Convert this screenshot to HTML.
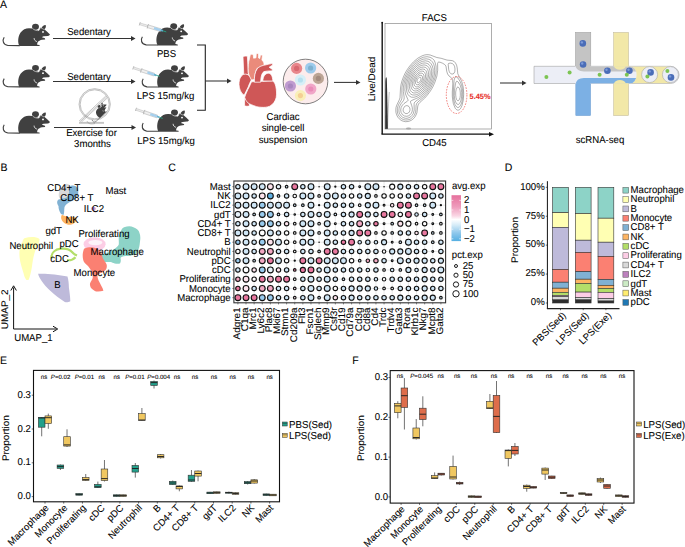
<!DOCTYPE html>
<html><head><meta charset="utf-8"><style>
html,body{margin:0;padding:0;background:#fff;width:685px;height:547px;overflow:hidden}
svg{display:block}
text{font-family:"Liberation Sans", sans-serif;stroke-width:0.08px;stroke-linejoin:round;text-rendering:geometricPrecision}
</style></head><body>
<svg width="685" height="547" viewBox="0 0 685 547" font-family='"Liberation Sans", sans-serif'>
<rect width="685" height="547" fill="#fff"/>
<text x="0" y="0" font-size="10.5" text-anchor="start" fill="#000" stroke="#000" transform="translate(0.00,7.60) scale(1,1.035)" >A</text><defs><g id="mouse">
<path d="M4.2,37.3 C2.4,40 2.6,44.6 8,45.5 L19.8,45.6" fill="none" stroke="#404040" stroke-width="1.15"/>
<ellipse cx="35.5" cy="26.8" rx="3.45" ry="3.0" fill="#404040"/>
<path d="M41.4,28.7 C41.6,26.6 43.3,25 45.7,24.9 C46.3,26.8 45.5,28.6 43.8,29.4 Z" fill="#404040"/>
<path d="M19.6,46.1 C17.6,43.5 17.6,36.5 20.6,32.4 C22.8,29.6 25.5,28.3 29,28.2 L32.6,28.5 L38.9,30.6 L40.4,27.6 L44.6,29.6 C46.5,31.2 48.5,33 50,34.6 C49.5,35.5 48.8,35.8 48,35.9 L43.5,36.2 C42.6,36.4 42.1,36.8 41.9,37.3 C42.8,37.6 44,37.8 44.9,38.2 L45.2,39.4 L42,39.8 C40.2,40.2 38.6,41 37.8,42 C37.2,43 37,44 37.2,44.7 L39.5,45.1 L39.7,46.1 Z" fill="#404040"/>
<path d="M32.7,28.6 C34,30.1 37,30.9 39,30.5 L40.5,27.7" fill="none" stroke="#fff" stroke-width="0.55"/>
<path d="M40.3,27.5 L43.9,29.4" fill="none" stroke="#fff" stroke-width="0.5"/>
<ellipse cx="43" cy="31.9" rx="0.95" ry="0.85" fill="#fff"/>
<path d="M34.1,38.1 C34.1,39.8 35.1,41 36.9,41.6" fill="none" stroke="#fff" stroke-width="0.8"/>
</g><g id="syr">
<line x1="0.4" y1="-1.7" x2="0.4" y2="1.7" stroke="#aaa" stroke-width="0.7"/>
<rect x="0.6" y="-0.9" width="8" height="1.8" fill="#ececec" stroke="#b0b0b0" stroke-width="0.4"/>
<line x1="8.8" y1="-2.3" x2="8.8" y2="2.3" stroke="#aaa" stroke-width="0.7"/>
<rect x="8.8" y="-1.4" width="13.4" height="2.8" fill="#efefef" stroke="#a8a8a8" stroke-width="0.45"/>
<rect x="15.2" y="-1.15" width="6.9" height="2.3" fill="#a6d0ee"/>
<rect x="22.2" y="-0.9" width="2.3" height="1.8" fill="#5fb0d0"/>
<line x1="24.5" y1="0" x2="28" y2="0" stroke="#26a386" stroke-width="0.8"/>
</g></defs><use href="#mouse" transform="translate(0,0)"/><use href="#mouse" transform="translate(0,41.3)"/><use href="#mouse" transform="translate(0,87.5)"/><use href="#mouse" transform="translate(138.2,-0.6)"/><use href="#mouse" transform="translate(139,41.4)"/><use href="#mouse" transform="translate(139,85.7)"/><use href="#syr" transform="translate(139.40,23.70) rotate(16.95) scale(1.004,1)"/><use href="#syr" transform="translate(132.90,67.70) rotate(18.05) scale(1.003,1)"/><use href="#syr" transform="translate(135.60,109.20) rotate(18.75) scale(1.022,1)"/><line x1="53.00" y1="38.50" x2="131.50" y2="38.50" stroke="#333" stroke-width="1.05" /><path d="M135.50,38.50 L131.00,36.10 L131.00,40.90 Z" fill="#333"/><line x1="53.00" y1="81.50" x2="131.50" y2="81.50" stroke="#333" stroke-width="1.05" /><path d="M135.50,81.50 L131.00,79.10 L131.00,83.90 Z" fill="#333"/><line x1="54.00" y1="127.50" x2="132.00" y2="127.50" stroke="#333" stroke-width="1.05" /><path d="M136.00,127.50 L131.50,125.10 L131.50,129.90 Z" fill="#333"/><text x="0" y="0" font-size="9.6" text-anchor="middle" fill="#000" stroke="#000" transform="translate(89.00,34.80) scale(1,1.035)" >Sedentary</text><text x="0" y="0" font-size="9.6" text-anchor="middle" fill="#000" stroke="#000" transform="translate(89.00,79.50) scale(1,1.035)" >Sedentary</text><text x="0" y="0" font-size="9.6" text-anchor="middle" fill="#000" stroke="#000" transform="translate(91.50,136.40) scale(1,1.035)" >Exercise for</text><text x="0" y="0" font-size="9.6" text-anchor="middle" fill="#000" stroke="#000" transform="translate(92.50,146.60) scale(1,1.035)" >3months</text><text x="0" y="0" font-size="9.6" text-anchor="middle" fill="#000" stroke="#000" transform="translate(166.50,57.00) scale(1,1.035)" >PBS</text><text x="0" y="0" font-size="9.6" text-anchor="middle" fill="#000" stroke="#000" transform="translate(165.50,99.40) scale(1,1.035)" >LPS 15mg/kg</text><text x="0" y="0" font-size="9.6" text-anchor="middle" fill="#000" stroke="#000" transform="translate(166.00,143.60) scale(1,1.035)" >LPS 15mg/kg</text><circle cx="94.7" cy="104.3" r="15.1" fill="none" stroke="#f0f0f0" stroke-width="1"/><g fill="none" stroke="#8a8a8a" stroke-width="0.5"><circle cx="94.7" cy="104.3" r="15.7"/><circle cx="94.7" cy="104.3" r="14.5"/><line x1="79" y1="121.2" x2="105.8" y2="96"/><line x1="80.2" y1="121.6" x2="106.6" y2="97"/><line x1="81.4" y1="122" x2="107.3" y2="98"/><line x1="79" y1="123.3" x2="104" y2="123.3"/><line x1="79" y1="122.4" x2="104" y2="122.4"/></g><g transform="translate(100.6,111.6) rotate(-44) scale(0.46) translate(-30,-37)"><use href="#mouse"/></g><path d="M87,121 C88,124 91,124.5 95,123.5" fill="none" stroke="#8a8a8a" stroke-width="0.5"/><path d="M197,45 L205.3,45 L205.3,110.3 L197,110.3" fill="none" stroke="#222" stroke-width="1.1"/><line x1="205.30" y1="81.00" x2="227.50" y2="81.00" stroke="#333" stroke-width="1.05" /><path d="M231.50,81.00 L227.00,78.60 L227.00,83.40 Z" fill="#333"/>
<g stroke="#fff" stroke-width="0.75" stroke-linejoin="round">
<path d="M243.0,57.3 C243.5,56 246,55.6 247.4,56.4 L248.4,74.5 L243.8,75 Z" fill="#cf5757"/>
<path d="M243.5,74.5 C246,73.5 248.5,74.5 250,76.5 C251,78 251.5,79 251.3,80 C250,82.5 249,84.5 248.3,86.8 C247,89.5 245.5,92.5 244.2,95.2 C241,93.5 239.2,89 239,84.5 C239,79.5 240.5,75.8 243.5,74.5 Z" fill="#cf5757"/>
<path d="M244.5,97.5 L248.8,101 L249.6,105.8 C248,106.5 245.8,106.4 244.6,105.8 Z" fill="#cf5757"/>
<path d="M251.5,81.8 L272.8,80.8 C274.5,82.5 275.5,84.5 275.8,86.5 C276.6,90 276.8,94 276.2,97.5 C275.5,101 273,104.5 269.8,106.2 C267,107.3 264,107.5 261.6,107.3 C259,107.2 257,106.8 255.4,106.2 C252.5,105.2 250,104.2 248.3,103.2 C246.5,101.5 245.2,99.5 244.7,97.3 C245.2,95.5 245.8,94 246.4,92.8 C247.3,90.5 248.3,88.5 249.3,86.8 C250,85 250.8,83.3 251.5,81.8 Z" fill="#cf5757"/>
<path d="M262.8,81 C263,76 265.5,73.2 268.5,73.2 C271,73.3 272.5,76 272.9,81 Z" fill="#cf5757"/>
<path d="M248.3,72.5 C248,67 248.3,62 249.5,58.5 L250.2,55 C250.8,54 252.6,54 253.3,55 L253.6,58.2 L256,57.8 L256.2,54 C256.7,53.3 258.2,53.3 258.6,54 L258.6,58 L259.7,58.6 L260.4,55.5 C261,54.8 262.4,55 262.5,55.8 L261.9,60 C263.5,61.5 264.3,63.3 264,65.3 L257,68.4 C255.5,71 254.8,75 254.4,79.5 L251.5,80 C250,77.5 248.8,75 248.3,72.5 Z" fill="#ea8b7b"/>
<path d="M254.4,82.2 C254.2,77 254.8,72 257.2,68.8 C259,66.5 262,65.5 266,64.8 C268,64.3 270,63.8 271.8,63.6 C272.6,63.8 272.8,64.6 272.3,65.3 L269.2,67.2 L272.1,69.2 C272.8,69.8 272.4,70.9 271.3,70.9 C268.5,70.9 266,71 264,71.6 C262.2,72.8 261.5,75 261,78 L260.6,82.2 Z" fill="#cf5757"/>
</g>
<circle cx="305.5" cy="81.5" r="22.3" fill="#fcecec" stroke="#555" stroke-width="0.75"/><circle cx="296.6" cy="68.4" r="5.6" fill="#e8868b"/><circle cx="296.6" cy="68.4" r="2.6" fill="#d86870"/><circle cx="310.6" cy="68.0" r="5.6" fill="#9dcbec"/><circle cx="310.6" cy="68.0" r="2.6" fill="#7eb0cf"/><circle cx="300.4" cy="80.0" r="5.6" fill="#d6eff7"/><circle cx="300.4" cy="80.0" r="2.6" fill="#b6e0ee"/><circle cx="318.4" cy="78.4" r="5.6" fill="#bca595"/><circle cx="318.4" cy="78.4" r="2.6" fill="#a48b7e"/><circle cx="290.4" cy="86.0" r="5.6" fill="#bf9bd0"/><circle cx="290.4" cy="86.0" r="2.6" fill="#a987bf"/><circle cx="310.8" cy="89.0" r="5.6" fill="#f1a6c8"/><circle cx="310.8" cy="89.0" r="2.6" fill="#e98bb7"/><circle cx="300.4" cy="95.6" r="5.6" fill="#f9efb8"/><circle cx="300.4" cy="95.6" r="2.6" fill="#f4cf93"/><line x1="334.00" y1="82.40" x2="356.50" y2="82.40" stroke="#333" stroke-width="1.05" /><path d="M360.50,82.40 L356.00,80.00 L356.00,84.80 Z" fill="#333"/><text x="0" y="0" font-size="9.6" text-anchor="middle" fill="#000" stroke="#000" transform="translate(283.00,120.20) scale(1,1.035)" >Cardiac</text><text x="0" y="0" font-size="9.6" text-anchor="middle" fill="#000" stroke="#000" transform="translate(283.00,131.20) scale(1,1.035)" >single-cell</text><text x="0" y="0" font-size="9.6" text-anchor="middle" fill="#000" stroke="#000" transform="translate(283.00,142.60) scale(1,1.035)" >suspension</text><text x="0" y="0" font-size="9.6" text-anchor="middle" fill="#000" stroke="#000" transform="translate(434.40,20.80) scale(1,1.035)" >FACS</text><rect x="385" y="23.6" width="106.4" height="105.4" fill="none" stroke="#777" stroke-width="0.6"/><line x1="382.2" y1="22.5" x2="382.2" y2="134.2" stroke="#111" stroke-width="1.4"/><circle cx="382.2" cy="22.6" r="0.9" fill="#111"/><line x1="381.5" y1="134.2" x2="490" y2="134.2" stroke="#111" stroke-width="1.2"/><path d="M494,134.2 L489,132 L489,136.4 Z" fill="#111"/><text x="0" y="0" font-size="9.6" text-anchor="middle" fill="#000" stroke="#000" transform="translate(374.60,79.00) rotate(-90) scale(1.035,1)" >Live/Dead</text><text x="0" y="0" font-size="9.6" text-anchor="middle" fill="#000" stroke="#000" transform="translate(434.40,145.60) scale(1,1.035)" >CD45</text><g fill="none" stroke="#444" stroke-width="0.42" stroke-linejoin="round"><path d="M418.2,82.8 L417.5,82.6 L417.1,82.0 L417.0,81.0 L417.2,79.8 L417.8,78.8 L418.7,77.8 L419.5,77.3 L420.2,77.3 L420.8,77.7 L421.0,78.2 L420.8,80.2 L419.8,81.8 L418.2,82.8Z"/><path d="M417.8,84.8 L416.5,84.6 L415.6,83.5 L415.5,81.8 L415.9,79.8 L416.9,77.8 L418.3,76.2 L419.8,75.3 L421.2,75.3 L422.0,75.8 L422.5,77.0 L422.5,78.5 L422.1,80.2 L421.2,82.0 L420.2,83.3 L419.0,84.3 L417.8,84.8Z"/><path d="M417.5,86.8 L416.5,86.9 L415.5,86.6 L414.8,86.0 L414.2,85.1 L413.9,82.8 L414.6,79.8 L416.0,76.9 L418.0,74.6 L420.2,73.3 L421.2,73.1 L422.2,73.3 L423.4,74.2 L424.0,75.8 L424.0,78.0 L423.4,80.2 L422.4,82.5 L420.9,84.5 L419.2,86.0 L417.5,86.8Z"/><path d="M417.0,88.8 L415.8,88.9 L414.5,88.6 L413.5,87.8 L412.9,86.8 L412.5,85.2 L412.4,83.5 L413.2,79.8 L415.1,76.0 L417.8,73.0 L420.5,71.3 L421.8,71.1 L423.1,71.2 L424.0,71.7 L424.7,72.5 L425.5,74.5 L425.5,77.2 L424.8,80.2 L423.4,83.2 L421.5,85.8 L419.2,87.8 L417.0,88.8Z"/><path d="M416.8,90.8 L415.2,91.0 L413.8,90.7 L412.5,89.8 L411.6,88.5 L411.0,86.8 L410.9,84.8 L411.1,82.5 L411.8,80.0 L412.8,77.5 L414.1,75.2 L415.6,73.2 L417.2,71.5 L419.0,70.2 L420.8,69.4 L422.5,69.0 L424.0,69.2 L425.0,69.7 L425.8,70.5 L426.5,71.7 L426.9,73.0 L427.1,76.2 L426.2,80.0 L424.5,83.8 L422.2,87.0 L419.5,89.5 L416.8,90.8Z"/><path d="M415.0,93.0 L413.2,92.9 L411.8,92.1 L410.5,90.8 L409.8,89.0 L409.4,86.8 L409.5,84.2 L410.0,81.5 L410.9,78.8 L412.2,76.0 L413.7,73.5 L415.5,71.3 L417.5,69.4 L419.5,68.1 L421.5,67.3 L423.5,67.0 L425.2,67.3 L426.5,68.1 L427.5,69.2 L428.1,70.8 L428.5,72.5 L428.6,74.5 L428.4,76.8 L427.1,81.2 L424.8,85.8 L421.8,89.4 L420.0,90.9 L418.2,92.0 L416.5,92.7 L415.0,93.0Z"/><path d="M415.0,95.0 L412.8,95.0 L411.0,94.3 L409.6,93.0 L408.5,91.0 L407.9,88.5 L407.9,85.8 L408.4,82.5 L409.3,79.2 L410.6,76.2 L412.5,73.0 L414.7,70.2 L417.0,68.0 L419.2,66.4 L421.8,65.3 L424.0,64.9 L426.0,65.3 L427.5,66.1 L428.6,67.2 L429.4,68.8 L430.0,70.8 L430.2,73.0 L430.0,75.5 L429.5,78.0 L428.7,80.8 L426.1,86.0 L422.8,90.4 L420.8,92.2 L418.8,93.6 L416.8,94.6 L415.0,95.0Z"/><path d="M413.8,97.3 L411.5,97.2 L409.5,96.2 L408.0,94.5 L406.9,92.0 L406.4,89.0 L406.4,85.8 L407.1,82.0 L408.3,78.2 L410.1,74.5 L412.2,71.2 L414.7,68.2 L417.2,65.9 L420.0,64.2 L422.5,63.2 L425.0,62.9 L427.2,63.4 L429.0,64.5 L430.2,66.0 L431.1,68.0 L431.6,70.2 L431.7,73.0 L431.4,75.8 L430.7,78.8 L429.7,81.8 L428.4,84.5 L426.6,87.5 L424.8,90.0 L422.8,92.3 L420.5,94.2 L418.2,95.7 L416.0,96.7 L413.8,97.3Z"/><path d="M407.2,113.5 L405.8,113.6 L404.5,113.0 L403.5,111.8 L403.1,110.2 L403.3,108.8 L404.0,107.2 L405.2,106.1 L406.8,105.6 L408.0,105.9 L409.0,106.6 L409.7,107.8 L410.0,109.2 L409.8,110.8 L409.3,112.0 L408.3,113.0 L407.2,113.5Z"/><path d="M406.8,116.3 L404.5,116.0 L402.5,114.7 L401.1,112.5 L400.7,110.0 L401.1,107.5 L402.5,105.1 L404.0,103.5 L407.4,101.2 L408.0,100.5 L407.9,99.5 L405.5,94.0 L404.8,89.8 L405.2,84.5 L405.9,81.5 L406.9,78.5 L408.6,74.8 L410.8,71.0 L413.5,67.6 L416.5,64.7 L419.5,62.6 L422.5,61.3 L425.5,60.8 L428.0,61.3 L429.8,62.3 L431.2,63.9 L432.3,66.0 L433.0,68.5 L433.2,71.5 L432.9,74.8 L432.2,78.2 L431.1,81.5 L429.5,85.0 L427.7,88.2 L425.5,91.2 L423.0,94.0 L420.8,95.9 L418.2,97.6 L411.6,100.5 L410.6,101.2 L410.5,102.2 L411.8,105.8 L412.3,107.8 L412.4,109.5 L412.2,111.2 L411.4,113.2 L410.1,114.8 L408.5,115.8 L406.8,116.3Z"/><path d="M458.5,100.6 L458.0,100.7 L457.5,100.6 L456.6,99.5 L456.0,97.6 L455.7,95.0 L455.7,92.0 L456.2,89.5 L457.0,87.5 L457.8,87.0 L458.8,87.5 L459.5,88.7 L460.1,90.8 L460.3,93.0 L460.3,95.5 L460.0,97.8 L459.2,99.7 L458.5,100.6Z"/><path d="M407.0,118.3 L405.5,118.3 L404.0,117.9 L402.5,117.2 L401.3,116.2 L399.6,113.8 L399.1,112.2 L398.9,110.5 L399.1,108.0 L399.9,105.8 L401.0,103.8 L403.5,100.5 L404.1,99.0 L404.2,97.2 L403.3,91.5 L403.3,88.0 L404.1,83.2 L405.4,78.8 L407.6,74.0 L410.2,69.8 L413.2,66.0 L416.2,63.0 L419.8,60.6 L423.0,59.2 L426.2,58.8 L429.0,59.3 L431.0,60.4 L432.5,62.0 L433.7,64.2 L434.5,67.2 L434.7,70.5 L434.5,74.0 L433.7,77.8 L432.6,81.2 L429.6,87.5 L425.7,93.0 L421.8,97.0 L416.0,101.0 L414.7,102.2 L414.2,103.2 L414.1,104.2 L414.2,110.2 L413.3,113.5 L412.2,115.2 L410.8,116.7 L409.0,117.7 L407.0,118.3Z"/><path d="M458.0,104.5 L456.8,103.9 L455.6,102.0 L454.7,99.0 L454.3,95.5 L454.4,90.8 L455.5,83.7 L456.0,81.9 L456.8,81.2 L457.5,81.5 L458.2,82.1 L460.2,85.2 L461.2,88.5 L461.7,92.5 L461.6,97.0 L460.8,101.0 L459.5,103.6 L458.8,104.3 L458.0,104.5Z"/><path d="M407.0,120.0 L405.2,120.0 L403.5,119.6 L401.8,118.8 L400.4,117.8 L399.1,116.2 L398.2,114.8 L397.6,113.0 L397.3,111.0 L397.4,108.5 L398.0,106.0 L399.0,103.8 L401.3,100.0 L401.9,98.2 L402.0,96.2 L401.8,90.8 L401.9,87.5 L402.7,83.2 L404.1,78.8 L406.3,73.8 L409.1,69.0 L412.3,65.0 L416.0,61.4 L419.8,58.8 L423.5,57.2 L427.0,56.7 L430.2,57.3 L432.5,58.6 L434.1,60.2 L435.1,62.5 L436.0,66.0 L436.2,69.5 L436.0,73.2 L435.2,77.2 L433.9,81.2 L431.2,87.2 L427.4,93.0 L423.8,97.1 L418.1,101.8 L416.8,103.3 L416.1,105.2 L415.9,109.5 L415.6,111.8 L414.9,114.0 L413.9,115.8 L412.5,117.4 L410.8,118.8 L409.0,119.6 L407.0,120.0Z"/><path d="M452.8,74.0 L451.5,73.9 L450.5,73.4 L449.7,72.5 L449.1,71.2 L448.7,69.5 L448.2,64.2 L448.5,63.5 L449.0,63.3 L450.8,63.1 L452.5,63.7 L453.8,64.8 L454.6,66.5 L455.0,69.0 L454.8,71.6 L454.0,73.3 L452.8,74.0Z"/><path d="M458.2,107.5 L457.2,107.4 L456.5,106.8 L455.1,104.8 L454.0,101.2 L453.3,97.0 L453.3,92.0 L454.1,80.2 L454.8,77.8 L455.2,77.1 L455.8,76.9 L456.8,77.1 L458.0,78.1 L460.3,81.8 L461.9,86.0 L462.7,91.0 L462.7,96.8 L461.9,102.0 L461.1,104.2 L460.2,105.9 L459.2,107.1 L458.2,107.5Z"/><path d="M408.0,121.5 L405.5,121.7 L403.2,121.2 L401.2,120.4 L399.2,118.8 L397.7,117.0 L396.6,114.8 L395.9,112.2 L395.8,109.8 L396.0,107.5 L396.6,105.5 L399.3,99.8 L400.0,97.8 L400.5,88.0 L401.1,84.2 L402.1,80.5 L403.4,77.0 L405.1,73.2 L407.1,69.8 L409.6,66.2 L413.5,61.8 L417.8,58.2 L422.0,55.9 L424.2,55.1 L426.2,54.7 L428.2,54.7 L430.2,55.0 L436.8,57.5 L441.2,58.3 L447.0,60.1 L452.2,60.6 L454.2,61.5 L455.5,63.0 L456.6,65.2 L457.2,67.8 L457.8,73.8 L461.6,81.2 L462.6,84.5 L463.4,88.2 L463.7,94.2 L463.3,100.0 L462.1,105.2 L461.3,107.2 L460.4,108.8 L459.5,109.6 L458.5,110.1 L457.5,110.1 L456.5,109.6 L455.5,108.6 L454.8,107.3 L453.4,103.8 L452.7,100.0 L452.3,96.2 L452.3,92.0 L452.8,83.8 L452.6,80.5 L452.1,78.8 L451.5,77.9 L449.0,76.0 L447.6,74.0 L446.7,71.2 L446.1,66.8 L445.4,65.2 L444.2,64.2 L442.5,63.2 L440.0,62.2 L438.5,62.1 L437.9,62.5 L437.6,63.5 L437.7,70.2 L436.9,76.0 L435.2,81.5 L432.9,86.8 L430.4,91.0 L427.4,95.0 L424.8,98.0 L419.8,102.5 L418.5,104.0 L417.8,106.0 L416.9,112.8 L416.0,115.0 L414.9,117.0 L413.5,118.6 L411.8,120.0 L410.0,120.9 L408.0,121.5Z"/></g><ellipse cx="408.5" cy="128.6" rx="2.6" ry="1" fill="#aaa"/><path d="M385.2,129 L385.3,82 C385.5,77 386.4,76 386.8,79 C387.2,92 387.6,110 388,128.8 Z" fill="#333"/><path d="M387.6,128.5 C388,115 388.6,100 389.3,92" fill="none" stroke="#777" stroke-width="0.4"/><ellipse cx="456.6" cy="95" rx="10.3" ry="18.5" fill="none" stroke="#e8302a" stroke-width="0.6" stroke-dasharray="1.6,1.2"/><text x="0" y="0" font-size="7.4" text-anchor="start" fill="#e8302a" stroke="#e8302a" transform="translate(469.60,98.80) scale(1,1.035)" font-weight="bold">5.45%</text><line x1="500.00" y1="83.00" x2="522.50" y2="83.00" stroke="#333" stroke-width="1.05" /><path d="M526.50,83.00 L522.00,80.60 L522.00,85.40 Z" fill="#333"/>
<defs><clipPath id="strm"><path d="M575,66.3 L630,66.3 A6.6,8.6 0 0 1 630,83.5 L575,83.5 Z"/></clipPath></defs>
<path d="M534,66.3 L670.5,66.3 A8.6,8.6 0 0 1 670.5,83.5 L534,83.5 Z" fill="#eceef6" stroke="#9a9a9a" stroke-width="0.55"/>
<rect x="628.6" y="66.6" width="42" height="16.6" fill="#f2e8a8"/>
<rect x="575.5" y="32.4" width="15.3" height="34.2" fill="#c4c4c4" stroke="#9a9a9a" stroke-width="0.5"/>
<rect x="575.8" y="83.2" width="14.8" height="32.4" fill="#7cb0e4" stroke="#6a9cd0" stroke-width="0.5"/>
<rect x="613.6" y="32.4" width="15" height="34.2" fill="#f2e8a8" stroke="#bdb69a" stroke-width="0.5"/>
<rect x="613.6" y="83.2" width="15" height="32.4" fill="#f2e8a8" stroke="#bdb69a" stroke-width="0.5"/>
<g clip-path="url(#strm)">
<rect x="575" y="66" width="70" height="18" fill="#eceef6"/>
<path d="M575.5,66 L645,66 L645,71.4 L584,71.4 C579,71.2 576,69 575.5,66 Z" fill="#c4c4c4"/>
<path d="M575.8,83.8 C576.2,80.2 579,78.2 584,78 L645,78 L645,83.8 Z" fill="#7cb0e4"/>
</g>
<rect x="576" y="64" width="14.5" height="3" fill="#c4c4c4"/>
<rect x="576.3" y="83" width="14" height="2" fill="#7cb0e4"/>
<path d="M614,66.2 C614.5,68.5 617,69.7 619.9,69.7 C622.8,69.7 625.3,68.5 625.8,66.2 Z" fill="#f2e8a8"/>
<path d="M614,83.6 C614.5,81.3 617,80.1 619.9,80.1 C622.8,80.1 625.3,81.3 625.8,83.6 Z" fill="#f2e8a8"/>
<rect x="614" y="64.5" width="14.3" height="2" fill="#f2e8a8"/>
<rect x="614" y="83.3" width="14.3" height="2" fill="#f2e8a8"/>
<circle cx="649.6" cy="74.6" r="8" fill="#eceef6" stroke="#9a9a9a" stroke-width="0.5"/>
<circle cx="670.4" cy="74.6" r="8" fill="#eceef6" stroke="#9a9a9a" stroke-width="0.5"/>
<circle cx="582.8" cy="43.4" r="3.3" fill="#4a6db8"/><circle cx="581.9" cy="42.4" r="1.2" fill="#7d9bd8"/><circle cx="583.1" cy="64.5" r="3.3" fill="#4a6db8"/><circle cx="582.2" cy="63.5" r="1.2" fill="#7d9bd8"/><circle cx="607.4" cy="70.7" r="3.3" fill="#4a6db8"/><circle cx="606.5" cy="69.7" r="1.2" fill="#7d9bd8"/><circle cx="629.4" cy="70.7" r="3.3" fill="#4a6db8"/><circle cx="628.5" cy="69.7" r="1.2" fill="#7d9bd8"/><circle cx="650.6" cy="72.4" r="3.3" fill="#4a6db8"/><circle cx="649.7" cy="71.4" r="1.2" fill="#7d9bd8"/><circle cx="671" cy="77.4" r="3.3" fill="#4a6db8"/><circle cx="670.1" cy="76.4" r="1.2" fill="#7d9bd8"/><circle cx="546.4" cy="77" r="2" fill="#7cc452"/><circle cx="569.6" cy="72.5" r="2" fill="#7cc452"/><circle cx="599.6" cy="74.7" r="2" fill="#7cc452"/><circle cx="626.8" cy="74.7" r="2" fill="#7cc452"/><circle cx="647.4" cy="76.6" r="2" fill="#7cc452"/><circle cx="667.4" cy="71" r="2" fill="#7cc452"/><text x="0" y="0" font-size="9.6" text-anchor="middle" fill="#000" stroke="#000" transform="translate(600.00,143.00) scale(1,1.035)" >scRNA-seq</text><text x="0" y="0" font-size="10.5" text-anchor="start" fill="#000" stroke="#000" transform="translate(0.50,170.60) scale(1,1.035)" >B</text>
<path d="M66.5,183.8 C70,184 72,187 71.5,191 C71,195 68,199 64,200.2 C61,200 58.5,198 58.7,195 C59,190 62,184.5 66.5,183.8 Z" fill="#d9d9d9"/>
<path d="M72,185.6 C76,185 78.8,188 78.3,193 C78,197 75,200 71,201.5 C68,203 66,204 64.5,207 C64,210 64.5,213 63.5,215 L61,214 C59,211 58.5,208.5 58.5,206 C57,204 56.5,201 58.5,199.5 C61,198.5 65,198.5 67,197 C69.5,195 69,191 69.2,188 C69.5,186.5 70.5,185.8 72,185.6 Z" fill="#80b1d3"/>
<path d="M62,214.8 C64,215.5 66,217 68,217 C71,217 74,216.5 76.5,218 C77,221 74.5,224.5 70,224.8 C66,225 62,222 61.2,218.5 C61,217 61.3,215.5 62,214.8 Z" fill="#fdb462"/>
<ellipse cx="93.4" cy="208.8" rx="2.4" ry="2" fill="#c99ccf"/>
<circle cx="93.2" cy="208.6" r="1.1" fill="#bc80bd"/>
<circle cx="110.8" cy="196.5" r="0.8" fill="#ffed6f"/>
<circle cx="53" cy="234.5" r="1" fill="#ccebc5"/>
<path d="M24.4,238.2 C30,236.5 36,236.5 39.5,238.9 C40,242 37,246 35.3,250.5 C33.5,256 32.5,262 31.9,267 C31,272 30,277 28.5,280 L26.4,280 C25,278 24,276 23.7,273.8 C22,268 20,262 19.6,257.4 C19.3,254 19.3,252 19.6,250.5 C20,246 21,243.5 22.3,242.3 C22.8,240 23.5,238.8 24.4,238.2 Z" fill="#ffffb3"/>
<path d="M38.1,273.8 C45,273.2 58,274.5 67.5,276.6 C68.5,280 68.9,284 68.9,287.5 C69.5,292 70.3,297 70.3,301.2 C68,302.5 66,302.3 64.8,301.9 C60,299 55,295.5 51.1,291.6 C47,287.5 43.5,284 41.5,280.7 C40,278.5 38.5,276 38.1,273.8 Z" fill="#bebada"/>
<path d="M51.5,258.5 C51,253 55,249.3 61,248.7 C66,248.2 70,249.5 72,252 C73.5,253.8 75.5,255 77,255.6 M67,260.2 C70.5,260.5 73.5,259.5 75.5,257.2" fill="none" stroke="#b3de69" stroke-width="2.2"/>
<circle cx="69.6" cy="246.4" r="0.9" fill="#1f78b4"/>
<path d="M124,227.3 C128,226 131,226 133.4,227.3 C136.5,228.5 139,230.5 139.4,232.7 C140.5,235.5 140.5,238 140.1,240.7 C139.8,243.5 139.5,246.5 138.7,248.7 C138,251 137.3,252.8 136.1,254 C133,255.5 129,256 125.4,256 C123,256.3 121,257 120.5,258 C121,260 121,262 120,263.4 C118,264 116.5,263.8 114.7,263.4 C113,263 112,262.5 110.7,262 C108.5,262 107,262.2 105.4,262 C103.5,261 102,260.5 101.4,259.4 C100.8,258 101,256.5 101.4,255.4 C103,254 105,253.5 106.7,252.7 C109.5,251.5 112,250.5 114.7,248.7 C116.5,247.5 118,246 118.7,244.7 C119,242.5 118.7,240 118.7,238 C119,235 120,232 121.4,230 C122,228.5 123,227.8 124,227.3 Z" fill="#8dd3c7"/>
<ellipse cx="94.6" cy="244.2" rx="11" ry="7" fill="#fccde5"/>
<ellipse cx="95.4" cy="242.6" rx="7" ry="2.6" fill="#fdf3f8"/>
<path d="M84,248.7 C87,247.5 90,247 93.4,247.4 C96,248 98.5,249 100,250.7 C101.5,253 102,255.5 102.7,258 C104,260.5 106,262.5 106.7,264.7 C107,266.5 106.8,268 106,269.4 C105,271 103,272 101.4,272.7 C99.5,273.5 97.8,274.2 97.4,275.4 C97.5,277.5 98,279 98.7,280.7 C99.5,282.5 100.5,284 101.4,286 C102.3,287.5 103,289 103.4,290.8 C101,291.5 98.5,291.6 96,291.4 C94,290.5 92,289 90.7,287.4 C90,286 89.8,284.5 90,283.4 C90.8,281.5 92,280 92.7,278 C92.8,276 92.6,274.3 92,272.7 C91,270 89.5,268 88,266 C86.5,264.5 85,263.5 84,262 C83,260 82.7,257.5 82.7,255.4 C82.7,253.5 83,251.5 84,248.7 Z" fill="#fb8072"/>
<text x="0" y="0" font-size="9.6" text-anchor="start" fill="#000" stroke="#000" transform="translate(47.20,191.25) scale(1,1.035)" >CD4+ T</text><text x="0" y="0" font-size="9.6" text-anchor="start" fill="#000" stroke="#000" transform="translate(60.20,201.45) scale(1,1.035)" >CD8+ T</text><text x="0" y="0" font-size="9.6" text-anchor="start" fill="#000" stroke="#000" transform="translate(105.40,193.85) scale(1,1.035)" >Mast</text><text x="0" y="0" font-size="9.6" text-anchor="start" fill="#000" stroke="#000" transform="translate(83.80,212.25) scale(1,1.035)" >ILC2</text><text x="0" y="0" font-size="9.6" text-anchor="start" fill="#000" stroke="#000" transform="translate(65.40,223.45) scale(1,1.035)" >NK</text><text x="0" y="0" font-size="9.6" text-anchor="start" fill="#000" stroke="#000" transform="translate(45.40,234.25) scale(1,1.035)" >gdT</text><text x="0" y="0" font-size="9.6" text-anchor="start" fill="#000" stroke="#000" transform="translate(78.40,236.65) scale(1,1.035)" >Proliferating</text><text x="0" y="0" font-size="9.6" text-anchor="start" fill="#000" stroke="#000" transform="translate(9.40,248.85) scale(1,1.035)" >Neutrophil</text><text x="0" y="0" font-size="9.6" text-anchor="start" fill="#000" stroke="#000" transform="translate(59.40,246.85) scale(1,1.035)" >pDC</text><text x="0" y="0" font-size="9.6" text-anchor="start" fill="#000" stroke="#000" transform="translate(90.60,254.65) scale(1,1.035)" >Macrophage</text><text x="0" y="0" font-size="9.6" text-anchor="start" fill="#000" stroke="#000" transform="translate(50.20,261.85) scale(1,1.035)" >cDC</text><text x="0" y="0" font-size="9.6" text-anchor="start" fill="#000" stroke="#000" transform="translate(73.60,276.45) scale(1,1.035)" >Monocyte</text><text x="0" y="0" font-size="9.6" text-anchor="start" fill="#000" stroke="#000" transform="translate(54.20,287.85) scale(1,1.035)" >B</text><path d="M13.6,329 L13.6,287.5 M13.6,329 L56,329" fill="none" stroke="#111" stroke-width="1"/><path d="M10.8,290.5 L13.6,285.8 L16.4,290.5" fill="none" stroke="#111" stroke-width="1"/><path d="M53,326.2 L57.7,329 L53,331.8" fill="none" stroke="#111" stroke-width="1"/><text x="0" y="0" font-size="9.6" text-anchor="middle" fill="#000" stroke="#000" transform="translate(8.10,309.30) rotate(-90) scale(1.035,1)" >UMAP_2</text><text x="0" y="0" font-size="9.6" text-anchor="start" fill="#000" stroke="#000" transform="translate(14.20,341.40) scale(1,1.035)" >UMAP_1</text><text x="0" y="0" font-size="10.5" text-anchor="start" fill="#000" stroke="#000" transform="translate(168.20,171.00) scale(1,1.035)" >C</text><g stroke="#dadada" stroke-width="0.6"><line x1="237.90" y1="181" x2="237.90" y2="302.8"/><line x1="246.02" y1="181" x2="246.02" y2="302.8"/><line x1="254.14" y1="181" x2="254.14" y2="302.8"/><line x1="262.26" y1="181" x2="262.26" y2="302.8"/><line x1="270.38" y1="181" x2="270.38" y2="302.8"/><line x1="278.50" y1="181" x2="278.50" y2="302.8"/><line x1="286.62" y1="181" x2="286.62" y2="302.8"/><line x1="294.74" y1="181" x2="294.74" y2="302.8"/><line x1="302.86" y1="181" x2="302.86" y2="302.8"/><line x1="310.98" y1="181" x2="310.98" y2="302.8"/><line x1="319.10" y1="181" x2="319.10" y2="302.8"/><line x1="327.22" y1="181" x2="327.22" y2="302.8"/><line x1="335.34" y1="181" x2="335.34" y2="302.8"/><line x1="343.46" y1="181" x2="343.46" y2="302.8"/><line x1="351.58" y1="181" x2="351.58" y2="302.8"/><line x1="359.70" y1="181" x2="359.70" y2="302.8"/><line x1="367.82" y1="181" x2="367.82" y2="302.8"/><line x1="375.94" y1="181" x2="375.94" y2="302.8"/><line x1="384.06" y1="181" x2="384.06" y2="302.8"/><line x1="392.18" y1="181" x2="392.18" y2="302.8"/><line x1="400.30" y1="181" x2="400.30" y2="302.8"/><line x1="408.42" y1="181" x2="408.42" y2="302.8"/><line x1="416.54" y1="181" x2="416.54" y2="302.8"/><line x1="424.66" y1="181" x2="424.66" y2="302.8"/><line x1="432.78" y1="181" x2="432.78" y2="302.8"/><line x1="440.90" y1="181" x2="440.90" y2="302.8"/><line x1="233.9" y1="186.70" x2="445.6" y2="186.70"/><line x1="233.9" y1="195.95" x2="445.6" y2="195.95"/><line x1="233.9" y1="205.20" x2="445.6" y2="205.20"/><line x1="233.9" y1="214.45" x2="445.6" y2="214.45"/><line x1="233.9" y1="223.70" x2="445.6" y2="223.70"/><line x1="233.9" y1="232.95" x2="445.6" y2="232.95"/><line x1="233.9" y1="242.20" x2="445.6" y2="242.20"/><line x1="233.9" y1="251.45" x2="445.6" y2="251.45"/><line x1="233.9" y1="260.70" x2="445.6" y2="260.70"/><line x1="233.9" y1="269.95" x2="445.6" y2="269.95"/><line x1="233.9" y1="279.20" x2="445.6" y2="279.20"/><line x1="233.9" y1="288.45" x2="445.6" y2="288.45"/><line x1="233.9" y1="297.70" x2="445.6" y2="297.70"/></g><g stroke="#111" stroke-width="1.12"><circle cx="237.90" cy="186.70" r="2.2" fill="#cfe6f6"/><circle cx="246.02" cy="186.70" r="2.9" fill="#cfe6f6"/><circle cx="254.14" cy="186.70" r="2.9" fill="#cfe6f6"/><circle cx="262.26" cy="186.70" r="2.9" fill="#cfe6f6"/><circle cx="270.38" cy="186.70" r="2.9" fill="#fce3ec"/><circle cx="278.50" cy="186.70" r="2.2" fill="#e8f3fb"/><circle cx="286.62" cy="186.70" r="1.3" fill="#cfe6f6"/><circle cx="294.74" cy="186.70" r="2.9" fill="#e9779f"/><circle cx="302.86" cy="186.70" r="2.2" fill="#cfe6f6"/><circle cx="310.98" cy="186.70" r="2.9" fill="#cfe6f6"/><circle cx="319.10" cy="186.70" r="0.8" fill="#111" stroke="none"/><circle cx="327.22" cy="186.70" r="2.9" fill="#cfe6f6"/><circle cx="335.34" cy="186.70" r="0.6" fill="#cfe6f6"/><circle cx="343.46" cy="186.70" r="2.2" fill="#cfe6f6"/><circle cx="351.58" cy="186.70" r="2.2" fill="#cfe6f6"/><circle cx="359.70" cy="186.70" r="0.9" fill="#cfe6f6"/><circle cx="367.82" cy="186.70" r="2.9" fill="#cfe6f6"/><circle cx="375.94" cy="186.70" r="2.9" fill="#cfe6f6"/><circle cx="384.06" cy="186.70" r="0.8" fill="#111" stroke="none"/><circle cx="392.18" cy="186.70" r="2.55" fill="#ffffff"/><circle cx="400.30" cy="186.70" r="2.55" fill="#cfe6f6"/><circle cx="408.42" cy="186.70" r="2.2" fill="#cfe6f6"/><circle cx="416.54" cy="186.70" r="2.2" fill="#cfe6f6"/><circle cx="424.66" cy="186.70" r="2.2" fill="#ffffff"/><circle cx="432.78" cy="186.70" r="2.9" fill="#e9779f"/><circle cx="440.90" cy="186.70" r="2.9" fill="#e9779f"/><circle cx="237.90" cy="195.95" r="2.9" fill="#cfe6f6"/><circle cx="246.02" cy="195.95" r="2.9" fill="#cfe6f6"/><circle cx="254.14" cy="195.95" r="2.2" fill="#cfe6f6"/><circle cx="262.26" cy="195.95" r="2.9" fill="#fce3ec"/><circle cx="270.38" cy="195.95" r="2.9" fill="#5fb0e2"/><circle cx="278.50" cy="195.95" r="1.3" fill="#cfe6f6"/><circle cx="286.62" cy="195.95" r="2.2" fill="#cfe6f6"/><circle cx="294.74" cy="195.95" r="1.75" fill="#ffffff"/><circle cx="302.86" cy="195.95" r="2.9" fill="#cfe6f6"/><circle cx="310.98" cy="195.95" r="2.9" fill="#cfe6f6"/><circle cx="319.10" cy="195.95" r="1.3" fill="#ffffff"/><circle cx="327.22" cy="195.95" r="2.9" fill="#cfe6f6"/><circle cx="335.34" cy="195.95" r="2.9" fill="#cfe6f6"/><circle cx="343.46" cy="195.95" r="2.2" fill="#cfe6f6"/><circle cx="351.58" cy="195.95" r="2.2" fill="#ffffff"/><circle cx="359.70" cy="195.95" r="2.2" fill="#cfe6f6"/><circle cx="367.82" cy="195.95" r="2.55" fill="#cfe6f6"/><circle cx="375.94" cy="195.95" r="1.3" fill="#ffffff"/><circle cx="384.06" cy="195.95" r="2.2" fill="#ffffff"/><circle cx="392.18" cy="195.95" r="2.2" fill="#ffffff"/><circle cx="400.30" cy="195.95" r="2.2" fill="#ffffff"/><circle cx="408.42" cy="195.95" r="2.2" fill="#cfe6f6"/><circle cx="416.54" cy="195.95" r="2.9" fill="#e9779f"/><circle cx="424.66" cy="195.95" r="2.9" fill="#e9779f"/><circle cx="432.78" cy="195.95" r="2.9" fill="#cfe6f6"/><circle cx="440.90" cy="195.95" r="2.2" fill="#cfe6f6"/><circle cx="237.90" cy="205.20" r="2.9" fill="#cfe6f6"/><circle cx="246.02" cy="205.20" r="2.9" fill="#cfe6f6"/><circle cx="254.14" cy="205.20" r="2.9" fill="#cfe6f6"/><circle cx="262.26" cy="205.20" r="2.9" fill="#98cbee"/><circle cx="270.38" cy="205.20" r="2.9" fill="#cfe6f6"/><circle cx="278.50" cy="205.20" r="2.9" fill="#cfe6f6"/><circle cx="286.62" cy="205.20" r="2.9" fill="#cfe6f6"/><circle cx="294.74" cy="205.20" r="1.3" fill="#cfe6f6"/><circle cx="302.86" cy="205.20" r="1.3" fill="#cfe6f6"/><circle cx="310.98" cy="205.20" r="2.9" fill="#cfe6f6"/><circle cx="319.10" cy="205.20" r="0.6" fill="#cfe6f6"/><circle cx="327.22" cy="205.20" r="2.9" fill="#cfe6f6"/><circle cx="335.34" cy="205.20" r="2.2" fill="#cfe6f6"/><circle cx="343.46" cy="205.20" r="2.2" fill="#cfe6f6"/><circle cx="351.58" cy="205.20" r="2.2" fill="#cfe6f6"/><circle cx="359.70" cy="205.20" r="1.3" fill="#ffffff"/><circle cx="367.82" cy="205.20" r="2.55" fill="#cfe6f6"/><circle cx="375.94" cy="205.20" r="2.9" fill="#cfe6f6"/><circle cx="384.06" cy="205.20" r="0.9" fill="#ffffff"/><circle cx="392.18" cy="205.20" r="1.75" fill="#fce3ec"/><circle cx="400.30" cy="205.20" r="2.9" fill="#e9779f"/><circle cx="408.42" cy="205.20" r="2.9" fill="#e9779f"/><circle cx="416.54" cy="205.20" r="1.3" fill="#cfe6f6"/><circle cx="424.66" cy="205.20" r="1.3" fill="#cfe6f6"/><circle cx="432.78" cy="205.20" r="2.9" fill="#cfe6f6"/><circle cx="440.90" cy="205.20" r="0.6" fill="#cfe6f6"/><circle cx="237.90" cy="214.45" r="2.9" fill="#e8f3fb"/><circle cx="246.02" cy="214.45" r="2.9" fill="#cfe6f6"/><circle cx="254.14" cy="214.45" r="1.3" fill="#cfe6f6"/><circle cx="262.26" cy="214.45" r="2.9" fill="#98cbee"/><circle cx="270.38" cy="214.45" r="2.9" fill="#98cbee"/><circle cx="278.50" cy="214.45" r="1.3" fill="#cfe6f6"/><circle cx="286.62" cy="214.45" r="2.2" fill="#cfe6f6"/><circle cx="294.74" cy="214.45" r="0.75" fill="#cfe6f6"/><circle cx="302.86" cy="214.45" r="2.2" fill="#cfe6f6"/><circle cx="310.98" cy="214.45" r="2.9" fill="#cfe6f6"/><circle cx="319.10" cy="214.45" r="2.2" fill="#cfe6f6"/><circle cx="327.22" cy="214.45" r="2.9" fill="#cfe6f6"/><circle cx="335.34" cy="214.45" r="1.3" fill="#cfe6f6"/><circle cx="343.46" cy="214.45" r="2.2" fill="#cfe6f6"/><circle cx="351.58" cy="214.45" r="2.55" fill="#cfe6f6"/><circle cx="359.70" cy="214.45" r="2.9" fill="#e9779f"/><circle cx="367.82" cy="214.45" r="2.55" fill="#cfe6f6"/><circle cx="375.94" cy="214.45" r="2.2" fill="#cfe6f6"/><circle cx="384.06" cy="214.45" r="2.9" fill="#e9779f"/><circle cx="392.18" cy="214.45" r="2.9" fill="#e9779f"/><circle cx="400.30" cy="214.45" r="2.2" fill="#ffffff"/><circle cx="408.42" cy="214.45" r="2.9" fill="#e9779f"/><circle cx="416.54" cy="214.45" r="1.75" fill="#cfe6f6"/><circle cx="424.66" cy="214.45" r="2.2" fill="#cfe6f6"/><circle cx="432.78" cy="214.45" r="0.9" fill="#cfe6f6"/><circle cx="440.90" cy="214.45" r="1.3" fill="#cfe6f6"/><circle cx="237.90" cy="223.70" r="2.2" fill="#cfe6f6"/><circle cx="246.02" cy="223.70" r="2.9" fill="#cfe6f6"/><circle cx="254.14" cy="223.70" r="2.2" fill="#cfe6f6"/><circle cx="262.26" cy="223.70" r="2.9" fill="#98cbee"/><circle cx="270.38" cy="223.70" r="2.9" fill="#98cbee"/><circle cx="278.50" cy="223.70" r="2.2" fill="#cfe6f6"/><circle cx="286.62" cy="223.70" r="2.2" fill="#fce3ec"/><circle cx="294.74" cy="223.70" r="1.3" fill="#ffffff"/><circle cx="302.86" cy="223.70" r="2.9" fill="#cfe6f6"/><circle cx="310.98" cy="223.70" r="2.9" fill="#cfe6f6"/><circle cx="319.10" cy="223.70" r="1.3" fill="#ffffff"/><circle cx="327.22" cy="223.70" r="2.9" fill="#cfe6f6"/><circle cx="335.34" cy="223.70" r="0.9" fill="#ffffff"/><circle cx="343.46" cy="223.70" r="2.2" fill="#cfe6f6"/><circle cx="351.58" cy="223.70" r="2.2" fill="#cfe6f6"/><circle cx="359.70" cy="223.70" r="2.9" fill="#f2a8c3"/><circle cx="367.82" cy="223.70" r="2.2" fill="#cfe6f6"/><circle cx="375.94" cy="223.70" r="2.2" fill="#e9779f"/><circle cx="384.06" cy="223.70" r="0.9" fill="#ffffff"/><circle cx="392.18" cy="223.70" r="1.3" fill="#cfe6f6"/><circle cx="400.30" cy="223.70" r="2.55" fill="#fce3ec"/><circle cx="408.42" cy="223.70" r="2.55" fill="#ffffff"/><circle cx="416.54" cy="223.70" r="1.3" fill="#ffffff"/><circle cx="424.66" cy="223.70" r="2.2" fill="#ffffff"/><circle cx="432.78" cy="223.70" r="0.9" fill="#cfe6f6"/><circle cx="440.90" cy="223.70" r="1.3" fill="#ffffff"/><circle cx="237.90" cy="232.95" r="2.9" fill="#cfe6f6"/><circle cx="246.02" cy="232.95" r="2.9" fill="#cfe6f6"/><circle cx="254.14" cy="232.95" r="2.2" fill="#cfe6f6"/><circle cx="262.26" cy="232.95" r="2.9" fill="#ffffff"/><circle cx="270.38" cy="232.95" r="2.9" fill="#cfe6f6"/><circle cx="278.50" cy="232.95" r="2.2" fill="#cfe6f6"/><circle cx="286.62" cy="232.95" r="2.2" fill="#ffffff"/><circle cx="294.74" cy="232.95" r="1.3" fill="#ffffff"/><circle cx="302.86" cy="232.95" r="2.9" fill="#cfe6f6"/><circle cx="310.98" cy="232.95" r="2.9" fill="#cfe6f6"/><circle cx="319.10" cy="232.95" r="1.3" fill="#ffffff"/><circle cx="327.22" cy="232.95" r="2.9" fill="#cfe6f6"/><circle cx="335.34" cy="232.95" r="2.2" fill="#cfe6f6"/><circle cx="343.46" cy="232.95" r="2.2" fill="#cfe6f6"/><circle cx="351.58" cy="232.95" r="2.55" fill="#cfe6f6"/><circle cx="359.70" cy="232.95" r="2.9" fill="#e9779f"/><circle cx="367.82" cy="232.95" r="2.9" fill="#e9779f"/><circle cx="375.94" cy="232.95" r="1.3" fill="#ffffff"/><circle cx="384.06" cy="232.95" r="2.2" fill="#ffffff"/><circle cx="392.18" cy="232.95" r="1.3" fill="#cfe6f6"/><circle cx="400.30" cy="232.95" r="2.2" fill="#cfe6f6"/><circle cx="408.42" cy="232.95" r="2.2" fill="#cfe6f6"/><circle cx="416.54" cy="232.95" r="1.75" fill="#fce3ec"/><circle cx="424.66" cy="232.95" r="2.9" fill="#e9779f"/><circle cx="432.78" cy="232.95" r="1.3" fill="#cfe6f6"/><circle cx="440.90" cy="232.95" r="1.3" fill="#ffffff"/><circle cx="237.90" cy="242.20" r="2.2" fill="#98cbee"/><circle cx="246.02" cy="242.20" r="2.9" fill="#cfe6f6"/><circle cx="254.14" cy="242.20" r="2.2" fill="#cfe6f6"/><circle cx="262.26" cy="242.20" r="2.9" fill="#98cbee"/><circle cx="270.38" cy="242.20" r="2.9" fill="#fce3ec"/><circle cx="278.50" cy="242.20" r="2.9" fill="#cfe6f6"/><circle cx="286.62" cy="242.20" r="2.2" fill="#ffffff"/><circle cx="294.74" cy="242.20" r="1.3" fill="#ffffff"/><circle cx="302.86" cy="242.20" r="2.9" fill="#cfe6f6"/><circle cx="310.98" cy="242.20" r="2.9" fill="#cfe6f6"/><circle cx="319.10" cy="242.20" r="0.8" fill="#111" stroke="none"/><circle cx="327.22" cy="242.20" r="2.9" fill="#cfe6f6"/><circle cx="335.34" cy="242.20" r="2.2" fill="#cfe6f6"/><circle cx="343.46" cy="242.20" r="2.2" fill="#e9779f"/><circle cx="351.58" cy="242.20" r="2.9" fill="#e9779f"/><circle cx="359.70" cy="242.20" r="1.75" fill="#cfe6f6"/><circle cx="367.82" cy="242.20" r="2.2" fill="#cfe6f6"/><circle cx="375.94" cy="242.20" r="1.75" fill="#cfe6f6"/><circle cx="384.06" cy="242.20" r="2.55" fill="#cfe6f6"/><circle cx="392.18" cy="242.20" r="0.9" fill="#ffffff"/><circle cx="400.30" cy="242.20" r="1.3" fill="#cfe6f6"/><circle cx="408.42" cy="242.20" r="2.9" fill="#cfe6f6"/><circle cx="416.54" cy="242.20" r="2.2" fill="#cfe6f6"/><circle cx="424.66" cy="242.20" r="2.2" fill="#cfe6f6"/><circle cx="432.78" cy="242.20" r="1.3" fill="#cfe6f6"/><circle cx="440.90" cy="242.20" r="2.2" fill="#cfe6f6"/><circle cx="237.90" cy="251.45" r="2.2" fill="#ffffff"/><circle cx="246.02" cy="251.45" r="2.9" fill="#cfe6f6"/><circle cx="254.14" cy="251.45" r="2.2" fill="#cfe6f6"/><circle cx="262.26" cy="251.45" r="2.9" fill="#f2a8c3"/><circle cx="270.38" cy="251.45" r="2.9" fill="#f2a8c3"/><circle cx="278.50" cy="251.45" r="2.2" fill="#cfe6f6"/><circle cx="286.62" cy="251.45" r="2.2" fill="#cfe6f6"/><circle cx="294.74" cy="251.45" r="1.3" fill="#ffffff"/><circle cx="302.86" cy="251.45" r="2.2" fill="#cfe6f6"/><circle cx="310.98" cy="251.45" r="2.2" fill="#cfe6f6"/><circle cx="319.10" cy="251.45" r="1.3" fill="#cfe6f6"/><circle cx="327.22" cy="251.45" r="2.9" fill="#e9779f"/><circle cx="335.34" cy="251.45" r="2.9" fill="#e9779f"/><circle cx="343.46" cy="251.45" r="2.2" fill="#cfe6f6"/><circle cx="351.58" cy="251.45" r="2.2" fill="#cfe6f6"/><circle cx="359.70" cy="251.45" r="2.2" fill="#cfe6f6"/><circle cx="367.82" cy="251.45" r="2.2" fill="#cfe6f6"/><circle cx="375.94" cy="251.45" r="2.2" fill="#cfe6f6"/><circle cx="384.06" cy="251.45" r="1.75" fill="#ffffff"/><circle cx="392.18" cy="251.45" r="2.55" fill="#cfe6f6"/><circle cx="400.30" cy="251.45" r="2.55" fill="#cfe6f6"/><circle cx="408.42" cy="251.45" r="2.9" fill="#cfe6f6"/><circle cx="416.54" cy="251.45" r="2.2" fill="#cfe6f6"/><circle cx="424.66" cy="251.45" r="2.2" fill="#cfe6f6"/><circle cx="432.78" cy="251.45" r="0.9" fill="#cfe6f6"/><circle cx="440.90" cy="251.45" r="2.2" fill="#cfe6f6"/><circle cx="237.90" cy="260.70" r="2.2" fill="#98cbee"/><circle cx="246.02" cy="260.70" r="2.9" fill="#cfe6f6"/><circle cx="254.14" cy="260.70" r="1.3" fill="#cfe6f6"/><circle cx="262.26" cy="260.70" r="2.9" fill="#f2a8c3"/><circle cx="270.38" cy="260.70" r="2.9" fill="#e9779f"/><circle cx="278.50" cy="260.70" r="2.9" fill="#cfe6f6"/><circle cx="286.62" cy="260.70" r="2.2" fill="#ffffff"/><circle cx="294.74" cy="260.70" r="0.6" fill="#2d7fc0"/><circle cx="302.86" cy="260.70" r="2.9" fill="#e9779f"/><circle cx="310.98" cy="260.70" r="2.9" fill="#cfe6f6"/><circle cx="319.10" cy="260.70" r="2.9" fill="#e9779f"/><circle cx="327.22" cy="260.70" r="2.9" fill="#cfe6f6"/><circle cx="335.34" cy="260.70" r="2.9" fill="#cfe6f6"/><circle cx="343.46" cy="260.70" r="2.9" fill="#cfe6f6"/><circle cx="351.58" cy="260.70" r="2.2" fill="#ffffff"/><circle cx="359.70" cy="260.70" r="1.3" fill="#cfe6f6"/><circle cx="367.82" cy="260.70" r="1.75" fill="#f2a8c3"/><circle cx="375.94" cy="260.70" r="2.2" fill="#f2a8c3"/><circle cx="384.06" cy="260.70" r="2.2" fill="#cfe6f6"/><circle cx="392.18" cy="260.70" r="0.9" fill="#cfe6f6"/><circle cx="400.30" cy="260.70" r="2.9" fill="#cfe6f6"/><circle cx="408.42" cy="260.70" r="2.2" fill="#cfe6f6"/><circle cx="416.54" cy="260.70" r="2.55" fill="#cfe6f6"/><circle cx="424.66" cy="260.70" r="2.55" fill="#cfe6f6"/><circle cx="432.78" cy="260.70" r="2.2" fill="#cfe6f6"/><circle cx="440.90" cy="260.70" r="2.55" fill="#cfe6f6"/><circle cx="237.90" cy="269.95" r="2.2" fill="#cfe6f6"/><circle cx="246.02" cy="269.95" r="2.9" fill="#ffffff"/><circle cx="254.14" cy="269.95" r="2.2" fill="#fce3ec"/><circle cx="262.26" cy="269.95" r="2.9" fill="#98cbee"/><circle cx="270.38" cy="269.95" r="2.9" fill="#e8f3fb"/><circle cx="278.50" cy="269.95" r="2.2" fill="#fce3ec"/><circle cx="286.62" cy="269.95" r="2.2" fill="#cfe6f6"/><circle cx="294.74" cy="269.95" r="1.3" fill="#e9779f"/><circle cx="302.86" cy="269.95" r="2.55" fill="#e9779f"/><circle cx="310.98" cy="269.95" r="2.9" fill="#e9779f"/><circle cx="319.10" cy="269.95" r="2.2" fill="#cfe6f6"/><circle cx="327.22" cy="269.95" r="2.9" fill="#cfe6f6"/><circle cx="335.34" cy="269.95" r="2.2" fill="#cfe6f6"/><circle cx="343.46" cy="269.95" r="2.2" fill="#cfe6f6"/><circle cx="351.58" cy="269.95" r="2.2" fill="#cfe6f6"/><circle cx="359.70" cy="269.95" r="2.2" fill="#cfe6f6"/><circle cx="367.82" cy="269.95" r="1.75" fill="#cfe6f6"/><circle cx="375.94" cy="269.95" r="2.2" fill="#cfe6f6"/><circle cx="384.06" cy="269.95" r="1.3" fill="#ffffff"/><circle cx="392.18" cy="269.95" r="1.75" fill="#cfe6f6"/><circle cx="400.30" cy="269.95" r="1.3" fill="#cfe6f6"/><circle cx="408.42" cy="269.95" r="2.55" fill="#cfe6f6"/><circle cx="416.54" cy="269.95" r="1.75" fill="#cfe6f6"/><circle cx="424.66" cy="269.95" r="2.55" fill="#cfe6f6"/><circle cx="432.78" cy="269.95" r="2.2" fill="#cfe6f6"/><circle cx="440.90" cy="269.95" r="2.9" fill="#cfe6f6"/><circle cx="237.90" cy="279.20" r="2.2" fill="#f2a8c3"/><circle cx="246.02" cy="279.20" r="2.9" fill="#fce3ec"/><circle cx="254.14" cy="279.20" r="2.2" fill="#ffffff"/><circle cx="262.26" cy="279.20" r="2.9" fill="#e9779f"/><circle cx="270.38" cy="279.20" r="2.9" fill="#f2a8c3"/><circle cx="278.50" cy="279.20" r="2.9" fill="#e9779f"/><circle cx="286.62" cy="279.20" r="2.9" fill="#e9779f"/><circle cx="294.74" cy="279.20" r="1.3" fill="#ffffff"/><circle cx="302.86" cy="279.20" r="2.2" fill="#cfe6f6"/><circle cx="310.98" cy="279.20" r="2.9" fill="#cfe6f6"/><circle cx="319.10" cy="279.20" r="2.2" fill="#cfe6f6"/><circle cx="327.22" cy="279.20" r="2.9" fill="#cfe6f6"/><circle cx="335.34" cy="279.20" r="2.2" fill="#cfe6f6"/><circle cx="343.46" cy="279.20" r="1.3" fill="#cfe6f6"/><circle cx="351.58" cy="279.20" r="2.2" fill="#cfe6f6"/><circle cx="359.70" cy="279.20" r="2.2" fill="#cfe6f6"/><circle cx="367.82" cy="279.20" r="2.2" fill="#cfe6f6"/><circle cx="375.94" cy="279.20" r="1.75" fill="#cfe6f6"/><circle cx="384.06" cy="279.20" r="1.75" fill="#ffffff"/><circle cx="392.18" cy="279.20" r="2.2" fill="#cfe6f6"/><circle cx="400.30" cy="279.20" r="2.2" fill="#cfe6f6"/><circle cx="408.42" cy="279.20" r="2.2" fill="#cfe6f6"/><circle cx="416.54" cy="279.20" r="2.2" fill="#cfe6f6"/><circle cx="424.66" cy="279.20" r="2.55" fill="#cfe6f6"/><circle cx="432.78" cy="279.20" r="2.2" fill="#cfe6f6"/><circle cx="440.90" cy="279.20" r="2.2" fill="#cfe6f6"/><circle cx="237.90" cy="288.45" r="2.2" fill="#e9779f"/><circle cx="246.02" cy="288.45" r="2.9" fill="#fce3ec"/><circle cx="254.14" cy="288.45" r="2.2" fill="#cfe6f6"/><circle cx="262.26" cy="288.45" r="2.9" fill="#f2a8c3"/><circle cx="270.38" cy="288.45" r="2.9" fill="#f2a8c3"/><circle cx="278.50" cy="288.45" r="2.2" fill="#cfe6f6"/><circle cx="286.62" cy="288.45" r="2.2" fill="#cfe6f6"/><circle cx="294.74" cy="288.45" r="1.3" fill="#fce3ec"/><circle cx="302.86" cy="288.45" r="2.2" fill="#cfe6f6"/><circle cx="310.98" cy="288.45" r="2.9" fill="#cfe6f6"/><circle cx="319.10" cy="288.45" r="2.2" fill="#cfe6f6"/><circle cx="327.22" cy="288.45" r="2.9" fill="#cfe6f6"/><circle cx="335.34" cy="288.45" r="2.2" fill="#ffffff"/><circle cx="343.46" cy="288.45" r="2.2" fill="#cfe6f6"/><circle cx="351.58" cy="288.45" r="2.55" fill="#cfe6f6"/><circle cx="359.70" cy="288.45" r="2.55" fill="#cfe6f6"/><circle cx="367.82" cy="288.45" r="2.55" fill="#cfe6f6"/><circle cx="375.94" cy="288.45" r="1.75" fill="#cfe6f6"/><circle cx="384.06" cy="288.45" r="1.3" fill="#ffffff"/><circle cx="392.18" cy="288.45" r="1.3" fill="#ffffff"/><circle cx="400.30" cy="288.45" r="2.2" fill="#cfe6f6"/><circle cx="408.42" cy="288.45" r="2.2" fill="#cfe6f6"/><circle cx="416.54" cy="288.45" r="2.2" fill="#cfe6f6"/><circle cx="424.66" cy="288.45" r="2.55" fill="#cfe6f6"/><circle cx="432.78" cy="288.45" r="2.2" fill="#cfe6f6"/><circle cx="440.90" cy="288.45" r="2.2" fill="#cfe6f6"/><circle cx="237.90" cy="297.70" r="2.9" fill="#e9779f"/><circle cx="246.02" cy="297.70" r="2.9" fill="#e9779f"/><circle cx="254.14" cy="297.70" r="2.9" fill="#e9779f"/><circle cx="262.26" cy="297.70" r="2.9" fill="#98cbee"/><circle cx="270.38" cy="297.70" r="2.9" fill="#98cbee"/><circle cx="278.50" cy="297.70" r="2.2" fill="#cfe6f6"/><circle cx="286.62" cy="297.70" r="2.2" fill="#cfe6f6"/><circle cx="294.74" cy="297.70" r="1.3" fill="#fce3ec"/><circle cx="302.86" cy="297.70" r="2.2" fill="#cfe6f6"/><circle cx="310.98" cy="297.70" r="2.9" fill="#cfe6f6"/><circle cx="319.10" cy="297.70" r="1.3" fill="#cfe6f6"/><circle cx="327.22" cy="297.70" r="2.9" fill="#cfe6f6"/><circle cx="335.34" cy="297.70" r="2.2" fill="#fce3ec"/><circle cx="343.46" cy="297.70" r="2.2" fill="#cfe6f6"/><circle cx="351.58" cy="297.70" r="2.55" fill="#cfe6f6"/><circle cx="359.70" cy="297.70" r="2.2" fill="#cfe6f6"/><circle cx="367.82" cy="297.70" r="2.2" fill="#cfe6f6"/><circle cx="375.94" cy="297.70" r="2.2" fill="#cfe6f6"/><circle cx="384.06" cy="297.70" r="2.2" fill="#cfe6f6"/><circle cx="392.18" cy="297.70" r="2.2" fill="#cfe6f6"/><circle cx="400.30" cy="297.70" r="2.55" fill="#cfe6f6"/><circle cx="408.42" cy="297.70" r="2.2" fill="#cfe6f6"/><circle cx="416.54" cy="297.70" r="2.2" fill="#cfe6f6"/><circle cx="424.66" cy="297.70" r="2.55" fill="#cfe6f6"/><circle cx="432.78" cy="297.70" r="2.55" fill="#cfe6f6"/><circle cx="440.90" cy="297.70" r="1.3" fill="#cfe6f6"/></g><rect x="233.9" y="181" width="211.70" height="121.80" fill="none" stroke="#333" stroke-width="1.1"/><line x1="232.30" y1="186.70" x2="233.90" y2="186.70" stroke="#333" stroke-width="0.6" /><text x="0" y="0" font-size="9.6" text-anchor="end" fill="#000" stroke="#000" transform="translate(230.60,189.80) scale(1,1.035)" >Mast</text><line x1="232.30" y1="195.95" x2="233.90" y2="195.95" stroke="#333" stroke-width="0.6" /><text x="0" y="0" font-size="9.6" text-anchor="end" fill="#000" stroke="#000" transform="translate(230.60,199.05) scale(1,1.035)" >NK</text><line x1="232.30" y1="205.20" x2="233.90" y2="205.20" stroke="#333" stroke-width="0.6" /><text x="0" y="0" font-size="9.6" text-anchor="end" fill="#000" stroke="#000" transform="translate(230.60,208.30) scale(1,1.035)" >ILC2</text><line x1="232.30" y1="214.45" x2="233.90" y2="214.45" stroke="#333" stroke-width="0.6" /><text x="0" y="0" font-size="9.6" text-anchor="end" fill="#000" stroke="#000" transform="translate(230.60,217.55) scale(1,1.035)" >gdT</text><line x1="232.30" y1="223.70" x2="233.90" y2="223.70" stroke="#333" stroke-width="0.6" /><text x="0" y="0" font-size="9.6" text-anchor="end" fill="#000" stroke="#000" transform="translate(230.60,226.80) scale(1,1.035)" >CD4+ T</text><line x1="232.30" y1="232.95" x2="233.90" y2="232.95" stroke="#333" stroke-width="0.6" /><text x="0" y="0" font-size="9.6" text-anchor="end" fill="#000" stroke="#000" transform="translate(230.60,236.05) scale(1,1.035)" >CD8+ T</text><line x1="232.30" y1="242.20" x2="233.90" y2="242.20" stroke="#333" stroke-width="0.6" /><text x="0" y="0" font-size="9.6" text-anchor="end" fill="#000" stroke="#000" transform="translate(230.60,245.30) scale(1,1.035)" >B</text><line x1="232.30" y1="251.45" x2="233.90" y2="251.45" stroke="#333" stroke-width="0.6" /><text x="0" y="0" font-size="9.6" text-anchor="end" fill="#000" stroke="#000" transform="translate(230.60,254.55) scale(1,1.035)" >Neutrophil</text><line x1="232.30" y1="260.70" x2="233.90" y2="260.70" stroke="#333" stroke-width="0.6" /><text x="0" y="0" font-size="9.6" text-anchor="end" fill="#000" stroke="#000" transform="translate(230.60,263.80) scale(1,1.035)" >pDC</text><line x1="232.30" y1="269.95" x2="233.90" y2="269.95" stroke="#333" stroke-width="0.6" /><text x="0" y="0" font-size="9.6" text-anchor="end" fill="#000" stroke="#000" transform="translate(230.60,273.05) scale(1,1.035)" >cDC</text><line x1="232.30" y1="279.20" x2="233.90" y2="279.20" stroke="#333" stroke-width="0.6" /><text x="0" y="0" font-size="9.6" text-anchor="end" fill="#000" stroke="#000" transform="translate(230.60,282.30) scale(1,1.035)" >Proliferating</text><line x1="232.30" y1="288.45" x2="233.90" y2="288.45" stroke="#333" stroke-width="0.6" /><text x="0" y="0" font-size="9.6" text-anchor="end" fill="#000" stroke="#000" transform="translate(230.60,291.55) scale(1,1.035)" >Monocyte</text><line x1="232.30" y1="297.70" x2="233.90" y2="297.70" stroke="#333" stroke-width="0.6" /><text x="0" y="0" font-size="9.6" text-anchor="end" fill="#000" stroke="#000" transform="translate(230.60,300.80) scale(1,1.035)" >Macrophage</text><line x1="237.90" y1="302.80" x2="237.90" y2="304.40" stroke="#333" stroke-width="0.6" /><text x="0" y="0" font-size="9.6" text-anchor="end" fill="#000" stroke="#000" transform="translate(239.70,307.40) rotate(-90) scale(1.035,1)" >Adgre1</text><line x1="246.02" y1="302.80" x2="246.02" y2="304.40" stroke="#333" stroke-width="0.6" /><text x="0" y="0" font-size="9.6" text-anchor="end" fill="#000" stroke="#000" transform="translate(247.82,307.40) rotate(-90) scale(1.035,1)" >C1qa</text><line x1="254.14" y1="302.80" x2="254.14" y2="304.40" stroke="#333" stroke-width="0.6" /><text x="0" y="0" font-size="9.6" text-anchor="end" fill="#000" stroke="#000" transform="translate(255.94,307.40) rotate(-90) scale(1.035,1)" >Mrc1</text><line x1="262.26" y1="302.80" x2="262.26" y2="304.40" stroke="#333" stroke-width="0.6" /><text x="0" y="0" font-size="9.6" text-anchor="end" fill="#000" stroke="#000" transform="translate(264.06,307.40) rotate(-90) scale(1.035,1)" >Ly6c2</text><line x1="270.38" y1="302.80" x2="270.38" y2="304.40" stroke="#333" stroke-width="0.6" /><text x="0" y="0" font-size="9.6" text-anchor="end" fill="#000" stroke="#000" transform="translate(272.18,307.40) rotate(-90) scale(1.035,1)" >Plac8</text><line x1="278.50" y1="302.80" x2="278.50" y2="304.40" stroke="#333" stroke-width="0.6" /><text x="0" y="0" font-size="9.6" text-anchor="end" fill="#000" stroke="#000" transform="translate(280.30,307.40) rotate(-90) scale(1.035,1)" >Mki67</text><line x1="286.62" y1="302.80" x2="286.62" y2="304.40" stroke="#333" stroke-width="0.6" /><text x="0" y="0" font-size="9.6" text-anchor="end" fill="#000" stroke="#000" transform="translate(288.42,307.40) rotate(-90) scale(1.035,1)" >Stmn1</text><line x1="294.74" y1="302.80" x2="294.74" y2="304.40" stroke="#333" stroke-width="0.6" /><text x="0" y="0" font-size="9.6" text-anchor="end" fill="#000" stroke="#000" transform="translate(296.54,307.40) rotate(-90) scale(1.035,1)" >Cd209a</text><line x1="302.86" y1="302.80" x2="302.86" y2="304.40" stroke="#333" stroke-width="0.6" /><text x="0" y="0" font-size="9.6" text-anchor="end" fill="#000" stroke="#000" transform="translate(304.66,307.40) rotate(-90) scale(1.035,1)" >Flt3</text><line x1="310.98" y1="302.80" x2="310.98" y2="304.40" stroke="#333" stroke-width="0.6" /><text x="0" y="0" font-size="9.6" text-anchor="end" fill="#000" stroke="#000" transform="translate(312.78,307.40) rotate(-90) scale(1.035,1)" >Fscn1</text><line x1="319.10" y1="302.80" x2="319.10" y2="304.40" stroke="#333" stroke-width="0.6" /><text x="0" y="0" font-size="9.6" text-anchor="end" fill="#000" stroke="#000" transform="translate(320.90,307.40) rotate(-90) scale(1.035,1)" >Siglech</text><line x1="327.22" y1="302.80" x2="327.22" y2="304.40" stroke="#333" stroke-width="0.6" /><text x="0" y="0" font-size="9.6" text-anchor="end" fill="#000" stroke="#000" transform="translate(329.02,307.40) rotate(-90) scale(1.035,1)" >Mmp9</text><line x1="335.34" y1="302.80" x2="335.34" y2="304.40" stroke="#333" stroke-width="0.6" /><text x="0" y="0" font-size="9.6" text-anchor="end" fill="#000" stroke="#000" transform="translate(337.14,307.40) rotate(-90) scale(1.035,1)" >Csf3r</text><line x1="343.46" y1="302.80" x2="343.46" y2="304.40" stroke="#333" stroke-width="0.6" /><text x="0" y="0" font-size="9.6" text-anchor="end" fill="#000" stroke="#000" transform="translate(345.26,307.40) rotate(-90) scale(1.035,1)" >Cd19</text><line x1="351.58" y1="302.80" x2="351.58" y2="304.40" stroke="#333" stroke-width="0.6" /><text x="0" y="0" font-size="9.6" text-anchor="end" fill="#000" stroke="#000" transform="translate(353.38,307.40) rotate(-90) scale(1.035,1)" >Cd79a</text><line x1="359.70" y1="302.80" x2="359.70" y2="304.40" stroke="#333" stroke-width="0.6" /><text x="0" y="0" font-size="9.6" text-anchor="end" fill="#000" stroke="#000" transform="translate(361.50,307.40) rotate(-90) scale(1.035,1)" >Cd3g</text><line x1="367.82" y1="302.80" x2="367.82" y2="304.40" stroke="#333" stroke-width="0.6" /><text x="0" y="0" font-size="9.6" text-anchor="end" fill="#000" stroke="#000" transform="translate(369.62,307.40) rotate(-90) scale(1.035,1)" >Cd8a</text><line x1="375.94" y1="302.80" x2="375.94" y2="304.40" stroke="#333" stroke-width="0.6" /><text x="0" y="0" font-size="9.6" text-anchor="end" fill="#000" stroke="#000" transform="translate(377.74,307.40) rotate(-90) scale(1.035,1)" >Cd4</text><line x1="384.06" y1="302.80" x2="384.06" y2="304.40" stroke="#333" stroke-width="0.6" /><text x="0" y="0" font-size="9.6" text-anchor="end" fill="#000" stroke="#000" transform="translate(385.86,307.40) rotate(-90) scale(1.035,1)" >Trdc</text><line x1="392.18" y1="302.80" x2="392.18" y2="304.40" stroke="#333" stroke-width="0.6" /><text x="0" y="0" font-size="9.6" text-anchor="end" fill="#000" stroke="#000" transform="translate(393.98,307.40) rotate(-90) scale(1.035,1)" >Trdv4</text><line x1="400.30" y1="302.80" x2="400.30" y2="304.40" stroke="#333" stroke-width="0.6" /><text x="0" y="0" font-size="9.6" text-anchor="end" fill="#000" stroke="#000" transform="translate(402.10,307.40) rotate(-90) scale(1.035,1)" >Gata3</text><line x1="408.42" y1="302.80" x2="408.42" y2="304.40" stroke="#333" stroke-width="0.6" /><text x="0" y="0" font-size="9.6" text-anchor="end" fill="#000" stroke="#000" transform="translate(410.22,307.40) rotate(-90) scale(1.035,1)" >Rora</text><line x1="416.54" y1="302.80" x2="416.54" y2="304.40" stroke="#333" stroke-width="0.6" /><text x="0" y="0" font-size="9.6" text-anchor="end" fill="#000" stroke="#000" transform="translate(418.34,307.40) rotate(-90) scale(1.035,1)" >Klrb1c</text><line x1="424.66" y1="302.80" x2="424.66" y2="304.40" stroke="#333" stroke-width="0.6" /><text x="0" y="0" font-size="9.6" text-anchor="end" fill="#000" stroke="#000" transform="translate(426.46,307.40) rotate(-90) scale(1.035,1)" >Nkg7</text><line x1="432.78" y1="302.80" x2="432.78" y2="304.40" stroke="#333" stroke-width="0.6" /><text x="0" y="0" font-size="9.6" text-anchor="end" fill="#000" stroke="#000" transform="translate(434.58,307.40) rotate(-90) scale(1.035,1)" >Mcpt8</text><line x1="440.90" y1="302.80" x2="440.90" y2="304.40" stroke="#333" stroke-width="0.6" /><text x="0" y="0" font-size="9.6" text-anchor="end" fill="#000" stroke="#000" transform="translate(442.70,307.40) rotate(-90) scale(1.035,1)" >Gata2</text><text x="0" y="0" font-size="9.6" text-anchor="start" fill="#000" stroke="#000" transform="translate(451.90,189.30) scale(1,1.035)" >avg.exp</text><defs><linearGradient id="cb" x1="0" y1="0" x2="0" y2="1"><stop offset="0" stop-color="#e6719d"/><stop offset="0.25" stop-color="#ee9bbb"/><stop offset="0.45" stop-color="#fad6e4"/><stop offset="0.53" stop-color="#ffffff"/><stop offset="0.65" stop-color="#d6ecf8"/><stop offset="0.82" stop-color="#8fc8ec"/><stop offset="1" stop-color="#55afe2"/></linearGradient></defs><rect x="451.5" y="195.2" width="9.5" height="45.9" fill="url(#cb)"/><line x1="451.50" y1="200.40" x2="453.30" y2="200.40" stroke="#fff" stroke-width="0.6" /><line x1="459.20" y1="200.40" x2="461.00" y2="200.40" stroke="#fff" stroke-width="0.6" /><text x="0" y="0" font-size="9.6" text-anchor="start" fill="#000" stroke="#000" transform="translate(464.00,203.30) scale(1,1.035)" >2</text><line x1="451.50" y1="210.00" x2="453.30" y2="210.00" stroke="#fff" stroke-width="0.6" /><line x1="459.20" y1="210.00" x2="461.00" y2="210.00" stroke="#fff" stroke-width="0.6" /><text x="0" y="0" font-size="9.6" text-anchor="start" fill="#000" stroke="#000" transform="translate(464.00,212.90) scale(1,1.035)" >1</text><line x1="451.50" y1="219.60" x2="453.30" y2="219.60" stroke="#fff" stroke-width="0.6" /><line x1="459.20" y1="219.60" x2="461.00" y2="219.60" stroke="#fff" stroke-width="0.6" /><text x="0" y="0" font-size="9.6" text-anchor="start" fill="#000" stroke="#000" transform="translate(464.00,222.50) scale(1,1.035)" >0</text><line x1="451.50" y1="229.20" x2="453.30" y2="229.20" stroke="#fff" stroke-width="0.6" /><line x1="459.20" y1="229.20" x2="461.00" y2="229.20" stroke="#fff" stroke-width="0.6" /><text x="0" y="0" font-size="9.6" text-anchor="start" fill="#000" stroke="#000" transform="translate(464.00,232.10) scale(1,1.035)" >−1</text><line x1="451.50" y1="238.80" x2="453.30" y2="238.80" stroke="#fff" stroke-width="0.6" /><line x1="459.20" y1="238.80" x2="461.00" y2="238.80" stroke="#fff" stroke-width="0.6" /><text x="0" y="0" font-size="9.6" text-anchor="start" fill="#000" stroke="#000" transform="translate(464.00,241.70) scale(1,1.035)" >−2</text><text x="0" y="0" font-size="9.6" text-anchor="start" fill="#000" stroke="#000" transform="translate(451.80,257.50) scale(1,1.035)" >pct.exp</text><circle cx="456" cy="266" r="1.5" fill="none" stroke="#111" stroke-width="0.95"/><text x="0" y="0" font-size="9.6" text-anchor="start" fill="#000" stroke="#000" transform="translate(462.70,268.90) scale(1,1.035)" >25</text><circle cx="456" cy="275.2" r="2.1" fill="none" stroke="#111" stroke-width="0.95"/><text x="0" y="0" font-size="9.6" text-anchor="start" fill="#000" stroke="#000" transform="translate(462.70,278.10) scale(1,1.035)" >50</text><circle cx="456" cy="284.5" r="2.65" fill="none" stroke="#111" stroke-width="0.95"/><text x="0" y="0" font-size="9.6" text-anchor="start" fill="#000" stroke="#000" transform="translate(462.70,287.40) scale(1,1.035)" >75</text><circle cx="456" cy="293.8" r="3.2" fill="none" stroke="#111" stroke-width="0.95"/><text x="0" y="0" font-size="9.6" text-anchor="start" fill="#000" stroke="#000" transform="translate(462.70,296.70) scale(1,1.035)" >100</text><text x="0" y="0" font-size="10.5" text-anchor="start" fill="#000" stroke="#000" transform="translate(504.80,171.00) scale(1,1.035)" >D</text><rect x="552.6" y="187.30" width="15.8" height="25.40" fill="#8dd3c7" stroke="#333" stroke-width="0.6"/><rect x="552.6" y="212.70" width="15.8" height="14.60" fill="#ffffb3" stroke="#333" stroke-width="0.6"/><rect x="552.6" y="227.30" width="15.8" height="42.20" fill="#bebada" stroke="#333" stroke-width="0.6"/><rect x="552.6" y="269.50" width="15.8" height="12.70" fill="#fb8072" stroke="#333" stroke-width="0.6"/><rect x="552.6" y="282.20" width="15.8" height="6.00" fill="#80b1d3" stroke="#333" stroke-width="0.6"/><rect x="552.6" y="288.20" width="15.8" height="4.10" fill="#fdb462" stroke="#333" stroke-width="0.6"/><rect x="552.6" y="292.30" width="15.8" height="3.10" fill="#b3de69" stroke="#333" stroke-width="0.6"/><rect x="552.6" y="295.40" width="15.8" height="1.20" fill="#fccde5" stroke="#333" stroke-width="0.6"/><rect x="552.6" y="296.60" width="15.8" height="3.30" fill="#d9d9d9" stroke="#333" stroke-width="0.6"/><rect x="552.6" y="299.90" width="15.8" height="3.10" fill="#2e2e2e" stroke="#333" stroke-width="0.6"/><rect x="575.3" y="187.30" width="15.8" height="26.30" fill="#8dd3c7" stroke="#333" stroke-width="0.6"/><rect x="575.3" y="213.60" width="15.8" height="26.60" fill="#ffffb3" stroke="#333" stroke-width="0.6"/><rect x="575.3" y="240.20" width="15.8" height="12.20" fill="#bebada" stroke="#333" stroke-width="0.6"/><rect x="575.3" y="252.40" width="15.8" height="19.30" fill="#fb8072" stroke="#333" stroke-width="0.6"/><rect x="575.3" y="271.70" width="15.8" height="7.50" fill="#80b1d3" stroke="#333" stroke-width="0.6"/><rect x="575.3" y="279.20" width="15.8" height="4.20" fill="#fdb462" stroke="#333" stroke-width="0.6"/><rect x="575.3" y="283.40" width="15.8" height="8.70" fill="#b3de69" stroke="#333" stroke-width="0.6"/><rect x="575.3" y="292.10" width="15.8" height="5.50" fill="#fccde5" stroke="#333" stroke-width="0.6"/><rect x="575.3" y="297.60" width="15.8" height="2.30" fill="#d9d9d9" stroke="#333" stroke-width="0.6"/><rect x="575.3" y="299.90" width="15.8" height="3.10" fill="#2e2e2e" stroke="#333" stroke-width="0.6"/><rect x="598.0" y="187.30" width="15.8" height="30.90" fill="#8dd3c7" stroke="#333" stroke-width="0.6"/><rect x="598.0" y="218.20" width="15.8" height="24.00" fill="#ffffb3" stroke="#333" stroke-width="0.6"/><rect x="598.0" y="242.20" width="15.8" height="14.20" fill="#bebada" stroke="#333" stroke-width="0.6"/><rect x="598.0" y="256.40" width="15.8" height="23.10" fill="#fb8072" stroke="#333" stroke-width="0.6"/><rect x="598.0" y="279.50" width="15.8" height="5.80" fill="#80b1d3" stroke="#333" stroke-width="0.6"/><rect x="598.0" y="285.30" width="15.8" height="3.10" fill="#fdb462" stroke="#333" stroke-width="0.6"/><rect x="598.0" y="288.40" width="15.8" height="3.90" fill="#b3de69" stroke="#333" stroke-width="0.6"/><rect x="598.0" y="292.30" width="15.8" height="6.30" fill="#fccde5" stroke="#333" stroke-width="0.6"/><rect x="598.0" y="298.60" width="15.8" height="2.40" fill="#d9d9d9" stroke="#333" stroke-width="0.6"/><rect x="598.0" y="301.00" width="15.8" height="2.00" fill="#2e2e2e" stroke="#333" stroke-width="0.6"/><line x1="547.4" y1="181.2" x2="547.4" y2="308.8" stroke="#111" stroke-width="1"/><line x1="546.9" y1="308.6" x2="619.5" y2="308.6" stroke="#222" stroke-width="1.3"/><line x1="545.80" y1="187.30" x2="547.40" y2="187.30" stroke="#111" stroke-width="0.6" /><text x="0" y="0" font-size="9.6" text-anchor="end" fill="#000" stroke="#000" transform="translate(544.70,189.60) scale(1,1.035)" >100%</text><line x1="545.80" y1="216.22" x2="547.40" y2="216.22" stroke="#111" stroke-width="0.6" /><text x="0" y="0" font-size="9.6" text-anchor="end" fill="#000" stroke="#000" transform="translate(544.70,218.53) scale(1,1.035)" >75%</text><line x1="545.80" y1="245.15" x2="547.40" y2="245.15" stroke="#111" stroke-width="0.6" /><text x="0" y="0" font-size="9.6" text-anchor="end" fill="#000" stroke="#000" transform="translate(544.70,247.45) scale(1,1.035)" >50%</text><line x1="545.80" y1="274.07" x2="547.40" y2="274.07" stroke="#111" stroke-width="0.6" /><text x="0" y="0" font-size="9.6" text-anchor="end" fill="#000" stroke="#000" transform="translate(544.70,276.38) scale(1,1.035)" >25%</text><line x1="545.80" y1="303.00" x2="547.40" y2="303.00" stroke="#111" stroke-width="0.6" /><text x="0" y="0" font-size="9.6" text-anchor="end" fill="#000" stroke="#000" transform="translate(544.70,305.30) scale(1,1.035)" >0%</text><line x1="560.50" y1="308.60" x2="560.50" y2="310.20" stroke="#111" stroke-width="0.6" /><text x="0" y="0" font-size="9.6" text-anchor="end" fill="#000" stroke="#000" transform="translate(566.50,316.00) rotate(-45)" >PBS(Sed)</text><line x1="583.20" y1="308.60" x2="583.20" y2="310.20" stroke="#111" stroke-width="0.6" /><text x="0" y="0" font-size="9.6" text-anchor="end" fill="#000" stroke="#000" transform="translate(589.20,316.00) rotate(-45)" >LPS(Sed)</text><line x1="605.90" y1="308.60" x2="605.90" y2="310.20" stroke="#111" stroke-width="0.6" /><text x="0" y="0" font-size="9.6" text-anchor="end" fill="#000" stroke="#000" transform="translate(611.90,316.00) rotate(-45)" >LPS(Exe)</text><text x="0" y="0" font-size="9.6" text-anchor="middle" fill="#000" stroke="#000" transform="translate(517.60,240.00) rotate(-90) scale(1.035,1)" >Proportion</text><rect x="622.9" y="187.30" width="5.8" height="5.8" fill="#8dd3c7" stroke="#555" stroke-width="0.5"/><text x="0" y="0" font-size="9.6" text-anchor="start" fill="#000" stroke="#000" transform="translate(630.60,193.00) scale(1,1.035)" >Macrophage</text><rect x="622.9" y="196.65" width="5.8" height="5.8" fill="#ffffb3" stroke="#555" stroke-width="0.5"/><text x="0" y="0" font-size="9.6" text-anchor="start" fill="#000" stroke="#000" transform="translate(630.60,202.35) scale(1,1.035)" >Neutrophil</text><rect x="622.9" y="206.00" width="5.8" height="5.8" fill="#bebada" stroke="#555" stroke-width="0.5"/><text x="0" y="0" font-size="9.6" text-anchor="start" fill="#000" stroke="#000" transform="translate(630.60,211.70) scale(1,1.035)" >B</text><rect x="622.9" y="215.35" width="5.8" height="5.8" fill="#fb8072" stroke="#555" stroke-width="0.5"/><text x="0" y="0" font-size="9.6" text-anchor="start" fill="#000" stroke="#000" transform="translate(630.60,221.05) scale(1,1.035)" >Monocyte</text><rect x="622.9" y="224.70" width="5.8" height="5.8" fill="#80b1d3" stroke="#555" stroke-width="0.5"/><text x="0" y="0" font-size="9.6" text-anchor="start" fill="#000" stroke="#000" transform="translate(630.60,230.40) scale(1,1.035)" >CD8+ T</text><rect x="622.9" y="234.05" width="5.8" height="5.8" fill="#fdb462" stroke="#555" stroke-width="0.5"/><text x="0" y="0" font-size="9.6" text-anchor="start" fill="#000" stroke="#000" transform="translate(630.60,239.75) scale(1,1.035)" >NK</text><rect x="622.9" y="243.40" width="5.8" height="5.8" fill="#b3de69" stroke="#555" stroke-width="0.5"/><text x="0" y="0" font-size="9.6" text-anchor="start" fill="#000" stroke="#000" transform="translate(630.60,249.10) scale(1,1.035)" >cDC</text><rect x="622.9" y="252.75" width="5.8" height="5.8" fill="#fccde5" stroke="#555" stroke-width="0.5"/><text x="0" y="0" font-size="9.6" text-anchor="start" fill="#000" stroke="#000" transform="translate(630.60,258.45) scale(1,1.035)" >Proliferating</text><rect x="622.9" y="262.10" width="5.8" height="5.8" fill="#d9d9d9" stroke="#555" stroke-width="0.5"/><text x="0" y="0" font-size="9.6" text-anchor="start" fill="#000" stroke="#000" transform="translate(630.60,267.80) scale(1,1.035)" >CD4+ T</text><rect x="622.9" y="271.45" width="5.8" height="5.8" fill="#bc80bd" stroke="#555" stroke-width="0.5"/><text x="0" y="0" font-size="9.6" text-anchor="start" fill="#000" stroke="#000" transform="translate(630.60,277.15) scale(1,1.035)" >ILC2</text><rect x="622.9" y="280.80" width="5.8" height="5.8" fill="#ccebc5" stroke="#555" stroke-width="0.5"/><text x="0" y="0" font-size="9.6" text-anchor="start" fill="#000" stroke="#000" transform="translate(630.60,286.50) scale(1,1.035)" >gdT</text><rect x="622.9" y="290.15" width="5.8" height="5.8" fill="#ffed6f" stroke="#555" stroke-width="0.5"/><text x="0" y="0" font-size="9.6" text-anchor="start" fill="#000" stroke="#000" transform="translate(630.60,295.85) scale(1,1.035)" >Mast</text><rect x="622.9" y="299.50" width="5.8" height="5.8" fill="#1f78b4" stroke="#555" stroke-width="0.5"/><text x="0" y="0" font-size="9.6" text-anchor="start" fill="#000" stroke="#000" transform="translate(630.60,305.20) scale(1,1.035)" >pDC</text><text x="0" y="0" font-size="10.5" text-anchor="start" fill="#000" stroke="#000" transform="translate(0.00,364.30) scale(1,1.035)" >E</text><rect x="33.5" y="370.4" width="246.0" height="131.40000000000003" fill="none" stroke="#111" stroke-width="1.1"/><line x1="31.70" y1="395.20" x2="33.50" y2="395.20" stroke="#111" stroke-width="0.6" /><text x="0" y="0" font-size="9.6" text-anchor="end" fill="#000" stroke="#000" transform="translate(30.90,397.85) scale(1,1.035)" >0.3</text><line x1="31.70" y1="429.00" x2="33.50" y2="429.00" stroke="#111" stroke-width="0.6" /><text x="0" y="0" font-size="9.6" text-anchor="end" fill="#000" stroke="#000" transform="translate(30.90,431.65) scale(1,1.035)" >0.2</text><line x1="31.70" y1="462.80" x2="33.50" y2="462.80" stroke="#111" stroke-width="0.6" /><text x="0" y="0" font-size="9.6" text-anchor="end" fill="#000" stroke="#000" transform="translate(30.90,465.45) scale(1,1.035)" >0.1</text><line x1="31.70" y1="496.60" x2="33.50" y2="496.60" stroke="#111" stroke-width="0.6" /><text x="0" y="0" font-size="9.6" text-anchor="end" fill="#000" stroke="#000" transform="translate(30.90,499.25) scale(1,1.035)" >0.0</text><line x1="41.70" y1="417.00" x2="41.70" y2="436.30" stroke="#444" stroke-width="0.75"/><rect x="38.40" y="417.30" width="6.6" height="9.90" fill="#22a08b" stroke="#333" stroke-width="0.6"/><line x1="38.40" y1="418.00" x2="45.00" y2="418.00" stroke="#222" stroke-width="0.95"/><line x1="48.30" y1="413.60" x2="48.30" y2="428.80" stroke="#444" stroke-width="0.75"/><rect x="45.00" y="415.90" width="6.6" height="7.60" fill="#f0c760" stroke="#333" stroke-width="0.6"/><line x1="45.00" y1="417.70" x2="51.60" y2="417.70" stroke="#222" stroke-width="0.95"/><line x1="45.00" y1="501.80" x2="45.00" y2="503.60" stroke="#111" stroke-width="0.6" /><text x="0" y="0" font-size="9.6" text-anchor="end" fill="#000" stroke="#000" transform="translate(49.20,508.50) rotate(-45)" >Macrophage</text><line x1="60.42" y1="464.50" x2="60.42" y2="470.00" stroke="#444" stroke-width="0.75"/><rect x="57.12" y="465.00" width="6.6" height="3.40" fill="#22a08b" stroke="#333" stroke-width="0.6"/><line x1="57.12" y1="466.60" x2="63.72" y2="466.60" stroke="#222" stroke-width="0.95"/><line x1="67.02" y1="429.30" x2="67.02" y2="447.00" stroke="#444" stroke-width="0.75"/><rect x="63.72" y="436.70" width="6.6" height="9.40" fill="#f0c760" stroke="#333" stroke-width="0.6"/><line x1="63.72" y1="444.90" x2="70.32" y2="444.90" stroke="#222" stroke-width="0.95"/><line x1="63.72" y1="501.80" x2="63.72" y2="503.60" stroke="#111" stroke-width="0.6" /><text x="0" y="0" font-size="9.6" text-anchor="end" fill="#000" stroke="#000" transform="translate(67.92,508.50) rotate(-45)" >Monocyte</text><line x1="79.14" y1="493.40" x2="79.14" y2="495.40" stroke="#444" stroke-width="0.75"/><rect x="75.84" y="493.60" width="6.6" height="1.60" fill="#22a08b" stroke="#333" stroke-width="0.6"/><line x1="75.84" y1="494.40" x2="82.44" y2="494.40" stroke="#222" stroke-width="0.95"/><line x1="85.74" y1="474.00" x2="85.74" y2="480.80" stroke="#444" stroke-width="0.75"/><rect x="82.44" y="477.40" width="6.6" height="3.00" fill="#f0c760" stroke="#333" stroke-width="0.6"/><line x1="82.44" y1="479.60" x2="89.04" y2="479.60" stroke="#222" stroke-width="0.95"/><line x1="82.44" y1="501.80" x2="82.44" y2="503.60" stroke="#111" stroke-width="0.6" /><text x="0" y="0" font-size="9.6" text-anchor="end" fill="#000" stroke="#000" transform="translate(86.64,508.50) rotate(-45)" >Proliferating</text><line x1="97.86" y1="481.60" x2="97.86" y2="488.00" stroke="#444" stroke-width="0.75"/><rect x="94.56" y="484.40" width="6.6" height="3.20" fill="#22a08b" stroke="#333" stroke-width="0.6"/><line x1="94.56" y1="486.80" x2="101.16" y2="486.80" stroke="#222" stroke-width="0.95"/><line x1="104.46" y1="460.00" x2="104.46" y2="481.50" stroke="#444" stroke-width="0.75"/><rect x="101.16" y="469.00" width="6.6" height="11.60" fill="#f0c760" stroke="#333" stroke-width="0.6"/><line x1="101.16" y1="478.60" x2="107.76" y2="478.60" stroke="#222" stroke-width="0.95"/><line x1="101.16" y1="501.80" x2="101.16" y2="503.60" stroke="#111" stroke-width="0.6" /><text x="0" y="0" font-size="9.6" text-anchor="end" fill="#000" stroke="#000" transform="translate(105.36,508.50) rotate(-45)" >cDC</text><line x1="116.58" y1="494.60" x2="116.58" y2="496.60" stroke="#444" stroke-width="0.75"/><rect x="113.28" y="494.80" width="6.6" height="1.60" fill="#22a08b" stroke="#333" stroke-width="0.6"/><line x1="113.28" y1="495.60" x2="119.88" y2="495.60" stroke="#222" stroke-width="0.95"/><line x1="123.18" y1="494.60" x2="123.18" y2="496.60" stroke="#444" stroke-width="0.75"/><rect x="119.88" y="494.80" width="6.6" height="1.60" fill="#f0c760" stroke="#333" stroke-width="0.6"/><line x1="119.88" y1="495.60" x2="126.48" y2="495.60" stroke="#222" stroke-width="0.95"/><line x1="119.88" y1="501.80" x2="119.88" y2="503.60" stroke="#111" stroke-width="0.6" /><text x="0" y="0" font-size="9.6" text-anchor="end" fill="#000" stroke="#000" transform="translate(124.08,508.50) rotate(-45)" >pDC</text><line x1="135.30" y1="463.00" x2="135.30" y2="477.60" stroke="#444" stroke-width="0.75"/><rect x="132.00" y="465.40" width="6.6" height="6.70" fill="#22a08b" stroke="#333" stroke-width="0.6"/><line x1="132.00" y1="468.50" x2="138.60" y2="468.50" stroke="#222" stroke-width="0.95"/><line x1="141.90" y1="408.00" x2="141.90" y2="420.60" stroke="#444" stroke-width="0.75"/><rect x="138.60" y="413.60" width="6.6" height="6.70" fill="#f0c760" stroke="#333" stroke-width="0.6"/><line x1="138.60" y1="420.00" x2="145.20" y2="420.00" stroke="#222" stroke-width="0.95"/><line x1="138.60" y1="501.80" x2="138.60" y2="503.60" stroke="#111" stroke-width="0.6" /><text x="0" y="0" font-size="9.6" text-anchor="end" fill="#000" stroke="#000" transform="translate(142.80,508.50) rotate(-45)" >Neutrophil</text><line x1="154.02" y1="380.50" x2="154.02" y2="388.50" stroke="#444" stroke-width="0.75"/><rect x="150.72" y="381.50" width="6.6" height="4.00" fill="#22a08b" stroke="#333" stroke-width="0.6"/><line x1="150.72" y1="382.60" x2="157.32" y2="382.60" stroke="#222" stroke-width="0.95"/><line x1="160.62" y1="454.00" x2="160.62" y2="458.50" stroke="#444" stroke-width="0.75"/><rect x="157.32" y="454.70" width="6.6" height="3.10" fill="#f0c760" stroke="#333" stroke-width="0.6"/><line x1="157.32" y1="456.50" x2="163.92" y2="456.50" stroke="#222" stroke-width="0.95"/><line x1="157.32" y1="501.80" x2="157.32" y2="503.60" stroke="#111" stroke-width="0.6" /><text x="0" y="0" font-size="9.6" text-anchor="end" fill="#000" stroke="#000" transform="translate(161.52,508.50) rotate(-45)" >B</text><line x1="172.74" y1="480.50" x2="172.74" y2="485.00" stroke="#444" stroke-width="0.75"/><rect x="169.44" y="481.30" width="6.6" height="3.30" fill="#22a08b" stroke="#333" stroke-width="0.6"/><line x1="169.44" y1="483.00" x2="176.04" y2="483.00" stroke="#222" stroke-width="0.95"/><line x1="179.34" y1="485.50" x2="179.34" y2="491.30" stroke="#444" stroke-width="0.75"/><rect x="176.04" y="485.90" width="6.6" height="3.00" fill="#f0c760" stroke="#333" stroke-width="0.6"/><line x1="176.04" y1="486.50" x2="182.64" y2="486.50" stroke="#222" stroke-width="0.95"/><line x1="176.04" y1="501.80" x2="176.04" y2="503.60" stroke="#111" stroke-width="0.6" /><text x="0" y="0" font-size="9.6" text-anchor="end" fill="#000" stroke="#000" transform="translate(180.24,508.50) rotate(-45)" >CD4+ T</text><line x1="191.46" y1="470.00" x2="191.46" y2="481.80" stroke="#444" stroke-width="0.75"/><rect x="188.16" y="475.20" width="6.6" height="6.10" fill="#22a08b" stroke="#333" stroke-width="0.6"/><line x1="188.16" y1="480.00" x2="194.76" y2="480.00" stroke="#222" stroke-width="0.95"/><line x1="198.06" y1="470.50" x2="198.06" y2="481.30" stroke="#444" stroke-width="0.75"/><rect x="194.76" y="471.00" width="6.6" height="5.10" fill="#f0c760" stroke="#333" stroke-width="0.6"/><line x1="194.76" y1="473.50" x2="201.36" y2="473.50" stroke="#222" stroke-width="0.95"/><line x1="194.76" y1="501.80" x2="194.76" y2="503.60" stroke="#111" stroke-width="0.6" /><text x="0" y="0" font-size="9.6" text-anchor="end" fill="#000" stroke="#000" transform="translate(198.96,508.50) rotate(-45)" >CD8+ T</text><line x1="210.18" y1="491.90" x2="210.18" y2="493.90" stroke="#444" stroke-width="0.75"/><rect x="206.88" y="492.10" width="6.6" height="1.60" fill="#22a08b" stroke="#333" stroke-width="0.6"/><line x1="206.88" y1="492.90" x2="213.48" y2="492.90" stroke="#222" stroke-width="0.95"/><line x1="216.78" y1="491.60" x2="216.78" y2="493.60" stroke="#444" stroke-width="0.75"/><rect x="213.48" y="491.80" width="6.6" height="1.60" fill="#f0c760" stroke="#333" stroke-width="0.6"/><line x1="213.48" y1="492.60" x2="220.08" y2="492.60" stroke="#222" stroke-width="0.95"/><line x1="213.48" y1="501.80" x2="213.48" y2="503.60" stroke="#111" stroke-width="0.6" /><text x="0" y="0" font-size="9.6" text-anchor="end" fill="#000" stroke="#000" transform="translate(217.68,508.50) rotate(-45)" >gdT</text><line x1="228.90" y1="491.60" x2="228.90" y2="493.50" stroke="#444" stroke-width="0.75"/><rect x="225.60" y="492.20" width="6.6" height="1.00" fill="#22a08b" stroke="#333" stroke-width="0.6"/><line x1="225.60" y1="492.60" x2="232.20" y2="492.60" stroke="#222" stroke-width="0.95"/><line x1="235.50" y1="492.50" x2="235.50" y2="494.50" stroke="#444" stroke-width="0.75"/><rect x="232.20" y="492.70" width="6.6" height="1.60" fill="#f0c760" stroke="#333" stroke-width="0.6"/><line x1="232.20" y1="493.50" x2="238.80" y2="493.50" stroke="#222" stroke-width="0.95"/><line x1="232.20" y1="501.80" x2="232.20" y2="503.60" stroke="#111" stroke-width="0.6" /><text x="0" y="0" font-size="9.6" text-anchor="end" fill="#000" stroke="#000" transform="translate(236.40,508.50) rotate(-45)" >ILC2</text><line x1="247.62" y1="481.00" x2="247.62" y2="484.50" stroke="#444" stroke-width="0.75"/><rect x="244.32" y="481.60" width="6.6" height="2.10" fill="#22a08b" stroke="#333" stroke-width="0.6"/><line x1="244.32" y1="482.80" x2="250.92" y2="482.80" stroke="#222" stroke-width="0.95"/><line x1="254.22" y1="479.00" x2="254.22" y2="483.50" stroke="#444" stroke-width="0.75"/><rect x="250.92" y="479.80" width="6.6" height="3.30" fill="#f0c760" stroke="#333" stroke-width="0.6"/><line x1="250.92" y1="481.00" x2="257.52" y2="481.00" stroke="#222" stroke-width="0.95"/><line x1="250.92" y1="501.80" x2="250.92" y2="503.60" stroke="#111" stroke-width="0.6" /><text x="0" y="0" font-size="9.6" text-anchor="end" fill="#000" stroke="#000" transform="translate(255.12,508.50) rotate(-45)" >NK</text><line x1="266.34" y1="493.70" x2="266.34" y2="495.70" stroke="#444" stroke-width="0.75"/><rect x="263.04" y="493.90" width="6.6" height="1.60" fill="#22a08b" stroke="#333" stroke-width="0.6"/><line x1="263.04" y1="494.70" x2="269.64" y2="494.70" stroke="#222" stroke-width="0.95"/><line x1="272.94" y1="494.00" x2="272.94" y2="496.00" stroke="#444" stroke-width="0.75"/><rect x="269.64" y="494.20" width="6.6" height="1.60" fill="#f0c760" stroke="#333" stroke-width="0.6"/><line x1="269.64" y1="495.00" x2="276.24" y2="495.00" stroke="#222" stroke-width="0.95"/><line x1="269.64" y1="501.80" x2="269.64" y2="503.60" stroke="#111" stroke-width="0.6" /><text x="0" y="0" font-size="9.6" text-anchor="end" fill="#000" stroke="#000" transform="translate(273.84,508.50) rotate(-45)" >Mast</text><text x="0" y="0" font-size="6.1" text-anchor="middle" fill="#000" stroke="#000" stroke-width="0.04" transform="translate(44.00,378.60) scale(1,1.035)" >ns</text><text x="60.60" y="378.6" font-size="6.1" text-anchor="middle" stroke="#000" stroke-width="0.04"><tspan font-style="italic">P</tspan>=0.02</text><text x="84.40" y="378.6" font-size="6.1" text-anchor="middle" stroke="#000" stroke-width="0.04"><tspan font-style="italic">P</tspan>=0.01</text><text x="0" y="0" font-size="6.1" text-anchor="middle" fill="#000" stroke="#000" stroke-width="0.04" transform="translate(101.80,378.60) scale(1,1.035)" >ns</text><text x="0" y="0" font-size="6.1" text-anchor="middle" fill="#000" stroke="#000" stroke-width="0.04" transform="translate(116.80,378.60) scale(1,1.035)" >ns</text><text x="134.90" y="378.6" font-size="6.1" text-anchor="middle" stroke="#000" stroke-width="0.04"><tspan font-style="italic">P</tspan>=0.01</text><text x="158.70" y="378.6" font-size="6.1" text-anchor="middle" stroke="#000" stroke-width="0.04"><tspan font-style="italic">P</tspan>=0.004</text><text x="0" y="0" font-size="6.1" text-anchor="middle" fill="#000" stroke="#000" stroke-width="0.04" transform="translate(177.00,378.60) scale(1,1.035)" >ns</text><text x="0" y="0" font-size="6.1" text-anchor="middle" fill="#000" stroke="#000" stroke-width="0.04" transform="translate(195.00,378.60) scale(1,1.035)" >ns</text><text x="0" y="0" font-size="6.1" text-anchor="middle" fill="#000" stroke="#000" stroke-width="0.04" transform="translate(214.00,378.60) scale(1,1.035)" >ns</text><text x="0" y="0" font-size="6.1" text-anchor="middle" fill="#000" stroke="#000" stroke-width="0.04" transform="translate(232.80,378.60) scale(1,1.035)" >ns</text><text x="0" y="0" font-size="6.1" text-anchor="middle" fill="#000" stroke="#000" stroke-width="0.04" transform="translate(251.00,378.60) scale(1,1.035)" >ns</text><text x="0" y="0" font-size="6.1" text-anchor="middle" fill="#000" stroke="#000" stroke-width="0.04" transform="translate(269.60,378.60) scale(1,1.035)" >ns</text><text x="0" y="0" font-size="9.6" text-anchor="middle" fill="#000" stroke="#000" transform="translate(9.30,438.20) rotate(-90) scale(1.035,1)" >Proportion</text><rect x="282.40" y="422.00" width="4.8" height="4" fill="#22a08b" stroke="#333" stroke-width="0.5"/><line x1="282.40" y1="423.40" x2="287.20" y2="423.40" stroke="#333" stroke-width="0.5"/><text x="0" y="0" font-size="9.7" text-anchor="start" fill="#000" stroke="#000" transform="translate(289.00,427.90) scale(1,1.035)" >PBS(Sed)</text><rect x="282.40" y="433.40" width="4.8" height="4" fill="#f0c760" stroke="#333" stroke-width="0.5"/><line x1="282.40" y1="434.80" x2="287.20" y2="434.80" stroke="#333" stroke-width="0.5"/><text x="0" y="0" font-size="9.7" text-anchor="start" fill="#000" stroke="#000" transform="translate(289.00,439.30) scale(1,1.035)" >LPS(Sed)</text><text x="0" y="0" font-size="10.5" text-anchor="start" fill="#000" stroke="#000" transform="translate(352.20,364.20) scale(1,1.035)" >F</text><rect x="390.2" y="370.6" width="243.8" height="132.5" fill="none" stroke="#111" stroke-width="1.1"/><line x1="388.40" y1="377.50" x2="390.20" y2="377.50" stroke="#111" stroke-width="0.6" /><text x="0" y="0" font-size="9.6" text-anchor="end" fill="#000" stroke="#000" transform="translate(388.10,380.15) scale(1,1.035)" >0.3</text><line x1="388.40" y1="417.30" x2="390.20" y2="417.30" stroke="#111" stroke-width="0.6" /><text x="0" y="0" font-size="9.6" text-anchor="end" fill="#000" stroke="#000" transform="translate(388.10,419.95) scale(1,1.035)" >0.2</text><line x1="388.40" y1="457.10" x2="390.20" y2="457.10" stroke="#111" stroke-width="0.6" /><text x="0" y="0" font-size="9.6" text-anchor="end" fill="#000" stroke="#000" transform="translate(388.10,459.75) scale(1,1.035)" >0.1</text><line x1="388.40" y1="496.90" x2="390.20" y2="496.90" stroke="#111" stroke-width="0.6" /><text x="0" y="0" font-size="9.6" text-anchor="end" fill="#000" stroke="#000" transform="translate(388.10,499.55) scale(1,1.035)" >0.0</text><line x1="397.80" y1="401.20" x2="397.80" y2="418.30" stroke="#444" stroke-width="0.75"/><rect x="394.50" y="403.30" width="6.6" height="9.40" fill="#f0c760" stroke="#333" stroke-width="0.6"/><line x1="394.50" y1="405.90" x2="401.10" y2="405.90" stroke="#222" stroke-width="0.95"/><line x1="404.40" y1="378.10" x2="404.40" y2="429.50" stroke="#444" stroke-width="0.75"/><rect x="401.10" y="388.00" width="6.6" height="19.40" fill="#de6d4b" stroke="#333" stroke-width="0.6"/><line x1="401.10" y1="395.70" x2="407.70" y2="395.70" stroke="#222" stroke-width="0.95"/><line x1="401.10" y1="503.10" x2="401.10" y2="504.90" stroke="#111" stroke-width="0.6" /><text x="0" y="0" font-size="9.6" text-anchor="end" fill="#000" stroke="#000" transform="translate(405.30,509.80) rotate(-45)" >Macrophage</text><line x1="416.22" y1="419.10" x2="416.22" y2="439.50" stroke="#444" stroke-width="0.75"/><rect x="412.92" y="428.00" width="6.6" height="10.80" fill="#f0c760" stroke="#333" stroke-width="0.6"/><line x1="412.92" y1="437.50" x2="419.52" y2="437.50" stroke="#222" stroke-width="0.95"/><line x1="422.82" y1="396.30" x2="422.82" y2="426.30" stroke="#444" stroke-width="0.75"/><rect x="419.52" y="408.20" width="6.6" height="11.40" fill="#de6d4b" stroke="#333" stroke-width="0.6"/><line x1="419.52" y1="414.20" x2="426.12" y2="414.20" stroke="#222" stroke-width="0.95"/><line x1="419.52" y1="503.10" x2="419.52" y2="504.90" stroke="#111" stroke-width="0.6" /><text x="0" y="0" font-size="9.6" text-anchor="end" fill="#000" stroke="#000" transform="translate(423.72,509.80) rotate(-45)" >Monocyte</text><line x1="434.64" y1="472.40" x2="434.64" y2="478.80" stroke="#444" stroke-width="0.75"/><rect x="431.34" y="475.60" width="6.6" height="3.00" fill="#f0c760" stroke="#333" stroke-width="0.6"/><line x1="431.34" y1="478.00" x2="437.94" y2="478.00" stroke="#222" stroke-width="0.95"/><line x1="441.24" y1="473.00" x2="441.24" y2="475.50" stroke="#444" stroke-width="0.75"/><rect x="437.94" y="473.20" width="6.6" height="1.80" fill="#de6d4b" stroke="#333" stroke-width="0.6"/><line x1="437.94" y1="474.00" x2="444.54" y2="474.00" stroke="#222" stroke-width="0.95"/><line x1="437.94" y1="503.10" x2="437.94" y2="504.90" stroke="#111" stroke-width="0.6" /><text x="0" y="0" font-size="9.6" text-anchor="end" fill="#000" stroke="#000" transform="translate(442.14,509.80) rotate(-45)" >Proliferating</text><line x1="453.06" y1="455.60" x2="453.06" y2="479.50" stroke="#444" stroke-width="0.75"/><rect x="449.76" y="466.40" width="6.6" height="12.60" fill="#f0c760" stroke="#333" stroke-width="0.6"/><line x1="449.76" y1="477.00" x2="456.36" y2="477.00" stroke="#222" stroke-width="0.95"/><line x1="459.66" y1="481.50" x2="459.66" y2="485.00" stroke="#444" stroke-width="0.75"/><rect x="456.36" y="482.40" width="6.6" height="1.60" fill="#de6d4b" stroke="#333" stroke-width="0.6"/><line x1="456.36" y1="483.20" x2="462.96" y2="483.20" stroke="#222" stroke-width="0.95"/><line x1="456.36" y1="503.10" x2="456.36" y2="504.90" stroke="#111" stroke-width="0.6" /><text x="0" y="0" font-size="9.6" text-anchor="end" fill="#000" stroke="#000" transform="translate(460.56,509.80) rotate(-45)" >cDC</text><line x1="471.48" y1="495.60" x2="471.48" y2="497.60" stroke="#444" stroke-width="0.75"/><rect x="468.18" y="495.80" width="6.6" height="1.60" fill="#f0c760" stroke="#333" stroke-width="0.6"/><line x1="468.18" y1="496.60" x2="474.78" y2="496.60" stroke="#222" stroke-width="0.95"/><line x1="478.08" y1="495.80" x2="478.08" y2="497.80" stroke="#444" stroke-width="0.75"/><rect x="474.78" y="496.00" width="6.6" height="1.60" fill="#de6d4b" stroke="#333" stroke-width="0.6"/><line x1="474.78" y1="496.80" x2="481.38" y2="496.80" stroke="#222" stroke-width="0.95"/><line x1="474.78" y1="503.10" x2="474.78" y2="504.90" stroke="#111" stroke-width="0.6" /><text x="0" y="0" font-size="9.6" text-anchor="end" fill="#000" stroke="#000" transform="translate(478.98,509.80) rotate(-45)" >pDC</text><line x1="489.90" y1="394.00" x2="489.90" y2="409.00" stroke="#444" stroke-width="0.75"/><rect x="486.60" y="401.40" width="6.6" height="7.20" fill="#f0c760" stroke="#333" stroke-width="0.6"/><line x1="486.60" y1="408.00" x2="493.20" y2="408.00" stroke="#222" stroke-width="0.95"/><line x1="496.50" y1="381.00" x2="496.50" y2="433.00" stroke="#444" stroke-width="0.75"/><rect x="493.20" y="395.40" width="6.6" height="37.20" fill="#de6d4b" stroke="#333" stroke-width="0.6"/><line x1="493.20" y1="416.40" x2="499.80" y2="416.40" stroke="#222" stroke-width="0.95"/><line x1="493.20" y1="503.10" x2="493.20" y2="504.90" stroke="#111" stroke-width="0.6" /><text x="0" y="0" font-size="9.6" text-anchor="end" fill="#000" stroke="#000" transform="translate(497.40,509.80) rotate(-45)" >Neutrophil</text><line x1="508.32" y1="449.50" x2="508.32" y2="466.40" stroke="#444" stroke-width="0.75"/><rect x="505.02" y="450.00" width="6.6" height="8.40" fill="#f0c760" stroke="#333" stroke-width="0.6"/><line x1="505.02" y1="450.60" x2="511.62" y2="450.60" stroke="#222" stroke-width="0.95"/><line x1="514.92" y1="443.00" x2="514.92" y2="456.00" stroke="#444" stroke-width="0.75"/><rect x="511.62" y="446.40" width="6.6" height="7.60" fill="#de6d4b" stroke="#333" stroke-width="0.6"/><line x1="511.62" y1="450.40" x2="518.22" y2="450.40" stroke="#222" stroke-width="0.95"/><line x1="511.62" y1="503.10" x2="511.62" y2="504.90" stroke="#111" stroke-width="0.6" /><text x="0" y="0" font-size="9.6" text-anchor="end" fill="#000" stroke="#000" transform="translate(515.82,509.80) rotate(-45)" >B</text><line x1="526.74" y1="484.50" x2="526.74" y2="491.70" stroke="#444" stroke-width="0.75"/><rect x="523.44" y="485.20" width="6.6" height="3.10" fill="#f0c760" stroke="#333" stroke-width="0.6"/><line x1="523.44" y1="486.50" x2="530.04" y2="486.50" stroke="#222" stroke-width="0.95"/><line x1="533.34" y1="486.30" x2="533.34" y2="488.30" stroke="#444" stroke-width="0.75"/><rect x="530.04" y="486.50" width="6.6" height="1.60" fill="#de6d4b" stroke="#333" stroke-width="0.6"/><line x1="530.04" y1="487.30" x2="536.64" y2="487.30" stroke="#222" stroke-width="0.95"/><line x1="530.04" y1="503.10" x2="530.04" y2="504.90" stroke="#111" stroke-width="0.6" /><text x="0" y="0" font-size="9.6" text-anchor="end" fill="#000" stroke="#000" transform="translate(534.24,509.80) rotate(-45)" >CD4+ T</text><line x1="545.16" y1="467.50" x2="545.16" y2="480.00" stroke="#444" stroke-width="0.75"/><rect x="541.86" y="468.10" width="6.6" height="6.00" fill="#f0c760" stroke="#333" stroke-width="0.6"/><line x1="541.86" y1="470.00" x2="548.46" y2="470.00" stroke="#222" stroke-width="0.95"/><line x1="551.76" y1="475.80" x2="551.76" y2="479.00" stroke="#444" stroke-width="0.75"/><rect x="548.46" y="476.00" width="6.6" height="2.60" fill="#de6d4b" stroke="#333" stroke-width="0.6"/><line x1="548.46" y1="477.20" x2="555.06" y2="477.20" stroke="#222" stroke-width="0.95"/><line x1="548.46" y1="503.10" x2="548.46" y2="504.90" stroke="#111" stroke-width="0.6" /><text x="0" y="0" font-size="9.6" text-anchor="end" fill="#000" stroke="#000" transform="translate(552.66,509.80) rotate(-45)" >CD8+ T</text><line x1="563.58" y1="492.50" x2="563.58" y2="494.00" stroke="#444" stroke-width="0.75"/><rect x="560.28" y="492.60" width="6.6" height="1.00" fill="#f0c760" stroke="#333" stroke-width="0.6"/><line x1="560.28" y1="493.00" x2="566.88" y2="493.00" stroke="#222" stroke-width="0.95"/><line x1="570.18" y1="494.70" x2="570.18" y2="496.70" stroke="#444" stroke-width="0.75"/><rect x="566.88" y="494.90" width="6.6" height="1.60" fill="#de6d4b" stroke="#333" stroke-width="0.6"/><line x1="566.88" y1="495.70" x2="573.48" y2="495.70" stroke="#222" stroke-width="0.95"/><line x1="566.88" y1="503.10" x2="566.88" y2="504.90" stroke="#111" stroke-width="0.6" /><text x="0" y="0" font-size="9.6" text-anchor="end" fill="#000" stroke="#000" transform="translate(571.08,509.80) rotate(-45)" >gdT</text><line x1="582.00" y1="492.60" x2="582.00" y2="494.60" stroke="#444" stroke-width="0.75"/><rect x="578.70" y="492.80" width="6.6" height="1.60" fill="#f0c760" stroke="#333" stroke-width="0.6"/><line x1="578.70" y1="493.60" x2="585.30" y2="493.60" stroke="#222" stroke-width="0.95"/><line x1="588.60" y1="493.60" x2="588.60" y2="495.60" stroke="#444" stroke-width="0.75"/><rect x="585.30" y="493.80" width="6.6" height="1.60" fill="#de6d4b" stroke="#333" stroke-width="0.6"/><line x1="585.30" y1="494.60" x2="591.90" y2="494.60" stroke="#222" stroke-width="0.95"/><line x1="585.30" y1="503.10" x2="585.30" y2="504.90" stroke="#111" stroke-width="0.6" /><text x="0" y="0" font-size="9.6" text-anchor="end" fill="#000" stroke="#000" transform="translate(589.50,509.80) rotate(-45)" >ILC2</text><line x1="600.42" y1="477.50" x2="600.42" y2="483.00" stroke="#444" stroke-width="0.75"/><rect x="597.12" y="478.60" width="6.6" height="3.40" fill="#f0c760" stroke="#333" stroke-width="0.6"/><line x1="597.12" y1="480.00" x2="603.72" y2="480.00" stroke="#222" stroke-width="0.95"/><line x1="607.02" y1="484.00" x2="607.02" y2="488.80" stroke="#444" stroke-width="0.75"/><rect x="603.72" y="484.40" width="6.6" height="3.90" fill="#de6d4b" stroke="#333" stroke-width="0.6"/><line x1="603.72" y1="486.00" x2="610.32" y2="486.00" stroke="#222" stroke-width="0.95"/><line x1="603.72" y1="503.10" x2="603.72" y2="504.90" stroke="#111" stroke-width="0.6" /><text x="0" y="0" font-size="9.6" text-anchor="end" fill="#000" stroke="#000" transform="translate(607.92,509.80) rotate(-45)" >NK</text><line x1="618.84" y1="494.70" x2="618.84" y2="496.70" stroke="#444" stroke-width="0.75"/><rect x="615.54" y="494.90" width="6.6" height="1.60" fill="#f0c760" stroke="#333" stroke-width="0.6"/><line x1="615.54" y1="495.70" x2="622.14" y2="495.70" stroke="#222" stroke-width="0.95"/><line x1="625.44" y1="495.50" x2="625.44" y2="497.50" stroke="#444" stroke-width="0.75"/><rect x="622.14" y="495.70" width="6.6" height="1.60" fill="#de6d4b" stroke="#333" stroke-width="0.6"/><line x1="622.14" y1="496.50" x2="628.74" y2="496.50" stroke="#222" stroke-width="0.95"/><line x1="622.14" y1="503.10" x2="622.14" y2="504.90" stroke="#111" stroke-width="0.6" /><text x="0" y="0" font-size="9.6" text-anchor="end" fill="#000" stroke="#000" transform="translate(626.34,509.80) rotate(-45)" >Mast</text><text x="0" y="0" font-size="6.1" text-anchor="middle" fill="#000" stroke="#000" stroke-width="0.04" transform="translate(400.00,378.20) scale(1,1.035)" >ns</text><text x="421.70" y="378.2" font-size="6.1" text-anchor="middle" stroke="#000" stroke-width="0.04"><tspan font-style="italic">P</tspan>=0.045</text><text x="0" y="0" font-size="6.1" text-anchor="middle" fill="#000" stroke="#000" stroke-width="0.04" transform="translate(440.80,378.20) scale(1,1.035)" >ns</text><text x="0" y="0" font-size="6.1" text-anchor="middle" fill="#000" stroke="#000" stroke-width="0.04" transform="translate(457.20,378.20) scale(1,1.035)" >ns</text><text x="0" y="0" font-size="6.1" text-anchor="middle" fill="#000" stroke="#000" stroke-width="0.04" transform="translate(474.00,378.20) scale(1,1.035)" >ns</text><text x="0" y="0" font-size="6.1" text-anchor="middle" fill="#000" stroke="#000" stroke-width="0.04" transform="translate(494.00,378.20) scale(1,1.035)" >ns</text><text x="0" y="0" font-size="6.1" text-anchor="middle" fill="#000" stroke="#000" stroke-width="0.04" transform="translate(511.20,378.20) scale(1,1.035)" >ns</text><text x="0" y="0" font-size="6.1" text-anchor="middle" fill="#000" stroke="#000" stroke-width="0.04" transform="translate(529.60,378.20) scale(1,1.035)" >ns</text><text x="0" y="0" font-size="6.1" text-anchor="middle" fill="#000" stroke="#000" stroke-width="0.04" transform="translate(549.00,378.20) scale(1,1.035)" >ns</text><text x="0" y="0" font-size="6.1" text-anchor="middle" fill="#000" stroke="#000" stroke-width="0.04" transform="translate(565.60,378.20) scale(1,1.035)" >ns</text><text x="0" y="0" font-size="6.1" text-anchor="middle" fill="#000" stroke="#000" stroke-width="0.04" transform="translate(584.60,378.20) scale(1,1.035)" >ns</text><text x="0" y="0" font-size="6.1" text-anchor="middle" fill="#000" stroke="#000" stroke-width="0.04" transform="translate(603.40,378.20) scale(1,1.035)" >ns</text><text x="0" y="0" font-size="6.1" text-anchor="middle" fill="#000" stroke="#000" stroke-width="0.04" transform="translate(622.00,378.20) scale(1,1.035)" >ns</text><text x="0" y="0" font-size="9.6" text-anchor="middle" fill="#000" stroke="#000" transform="translate(364.00,438.20) rotate(-90) scale(1.035,1)" >Proportion</text><rect x="636.60" y="422.00" width="4.8" height="4" fill="#f0c760" stroke="#333" stroke-width="0.5"/><line x1="636.60" y1="423.40" x2="641.40" y2="423.40" stroke="#333" stroke-width="0.5"/><text x="0" y="0" font-size="9.7" text-anchor="start" fill="#000" stroke="#000" transform="translate(643.20,427.90) scale(1,1.035)" >LPS(Sed)</text><rect x="636.60" y="433.40" width="4.8" height="4" fill="#de6d4b" stroke="#333" stroke-width="0.5"/><line x1="636.60" y1="434.80" x2="641.40" y2="434.80" stroke="#333" stroke-width="0.5"/><text x="0" y="0" font-size="9.7" text-anchor="start" fill="#000" stroke="#000" transform="translate(643.20,439.30) scale(1,1.035)" >LPS(Exe)</text>
</svg></body></html>
